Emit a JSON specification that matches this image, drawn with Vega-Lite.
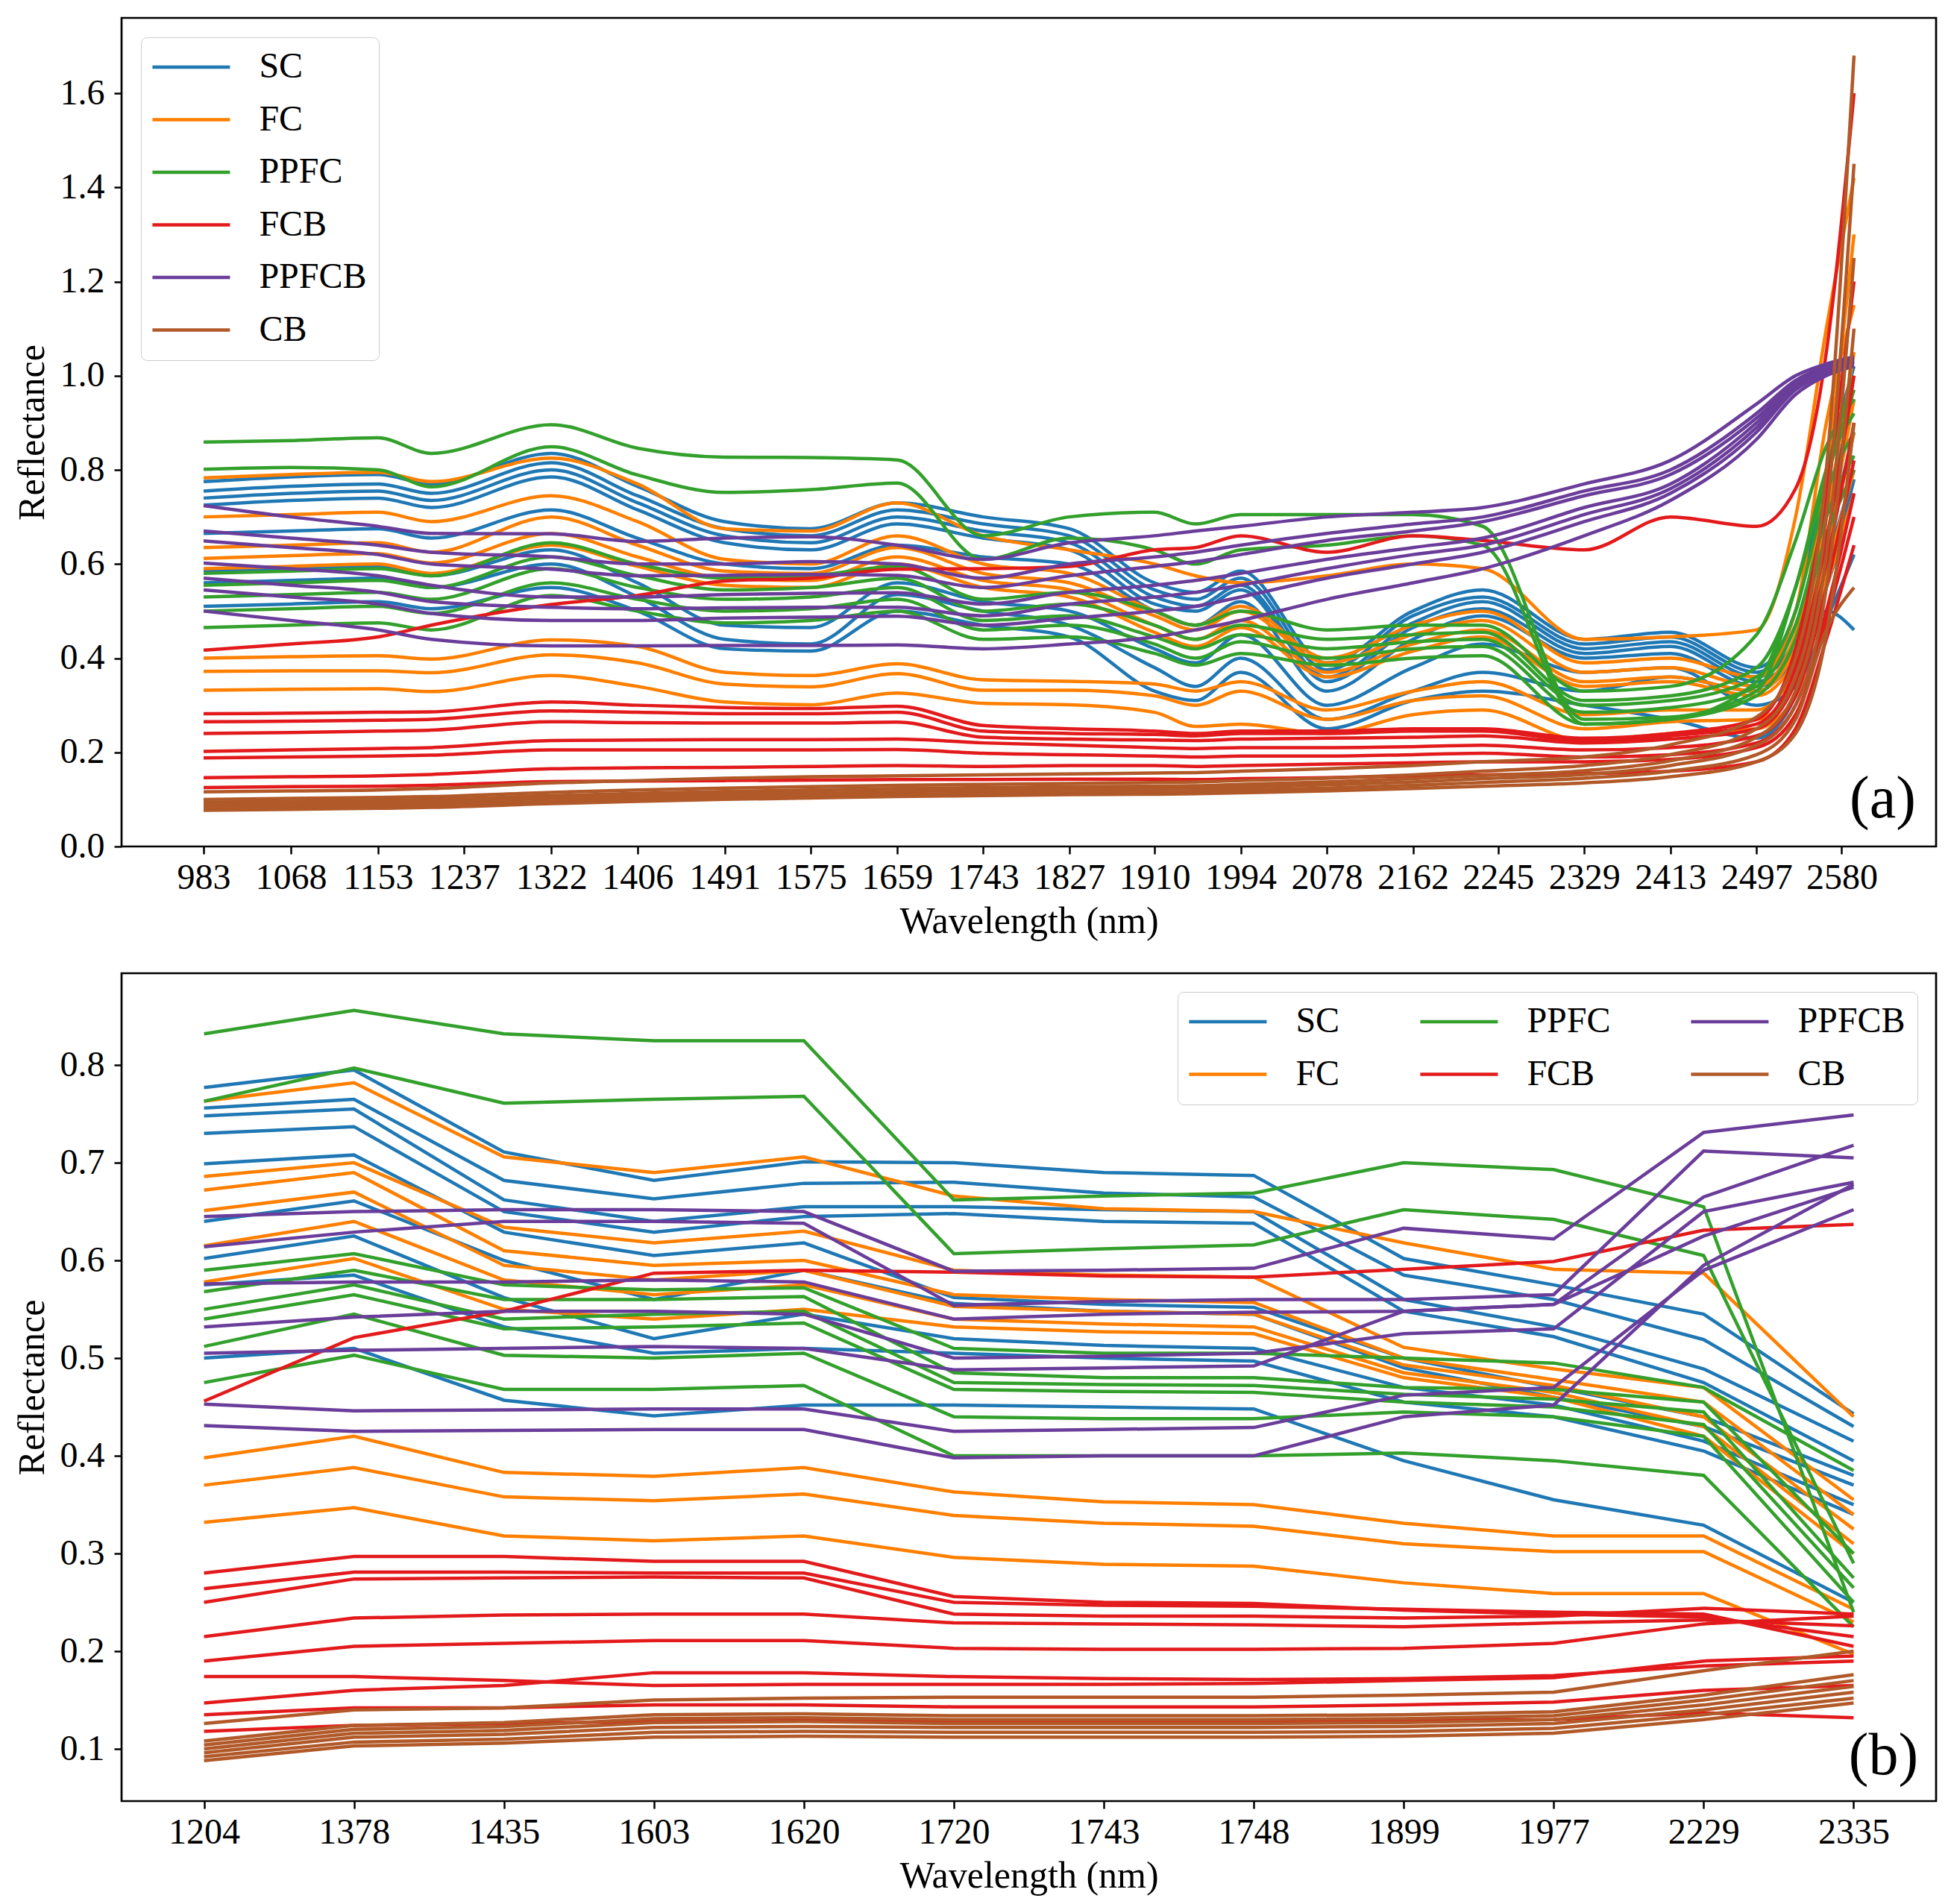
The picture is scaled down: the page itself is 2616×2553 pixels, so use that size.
{
  "$schema": "https://vega.github.io/schema/vega-lite/v6.json",
  "background": "white",
  "padding": {"left": 16, "top": 22, "right": 5, "bottom": 5},
  "datasets": {
    "top": [
      {"c":"SC","i":1,"w":983,"r":0.775},{"c":"SC","i":1,"w":1068,"r":0.785},{"c":"SC","i":1,"w":1153,"r":0.79},{"c":"SC","i":1,"w":1205,"r":0.77},{"c":"SC","i":1,"w":1322,"r":0.835},{"c":"SC","i":1,"w":1406,"r":0.765},{"c":"SC","i":1,"w":1491,"r":0.69},{"c":"SC","i":1,"w":1575,"r":0.675},{"c":"SC","i":1,"w":1659,"r":0.73},{"c":"SC","i":1,"w":1743,"r":0.7},{"c":"SC","i":1,"w":1827,"r":0.675},{"c":"SC","i":1,"w":1910,"r":0.56},{"c":"SC","i":1,"w":1950,"r":0.54},{"c":"SC","i":1,"w":1994,"r":0.585},{"c":"SC","i":1,"w":2078,"r":0.39},{"c":"SC","i":1,"w":2162,"r":0.5},{"c":"SC","i":1,"w":2230,"r":0.545},{"c":"SC","i":1,"w":2329,"r":0.44},{"c":"SC","i":1,"w":2413,"r":0.455},{"c":"SC","i":1,"w":2497,"r":0.38},{"c":"SC","i":1,"w":2535,"r":0.5},{"c":"SC","i":1,"w":2565,"r":0.8},{"c":"SC","i":1,"w":2592,"r":1.02},
      {"c":"SC","i":2,"w":983,"r":0.755},{"c":"SC","i":2,"w":1068,"r":0.765},{"c":"SC","i":2,"w":1153,"r":0.77},{"c":"SC","i":2,"w":1205,"r":0.75},{"c":"SC","i":2,"w":1322,"r":0.815},{"c":"SC","i":2,"w":1406,"r":0.745},{"c":"SC","i":2,"w":1491,"r":0.675},{"c":"SC","i":2,"w":1575,"r":0.66},{"c":"SC","i":2,"w":1659,"r":0.715},{"c":"SC","i":2,"w":1743,"r":0.685},{"c":"SC","i":2,"w":1827,"r":0.66},{"c":"SC","i":2,"w":1910,"r":0.545},{"c":"SC","i":2,"w":1950,"r":0.525},{"c":"SC","i":2,"w":1994,"r":0.57},{"c":"SC","i":2,"w":2078,"r":0.375},{"c":"SC","i":2,"w":2162,"r":0.49},{"c":"SC","i":2,"w":2230,"r":0.53},{"c":"SC","i":2,"w":2329,"r":0.43},{"c":"SC","i":2,"w":2413,"r":0.445},{"c":"SC","i":2,"w":2497,"r":0.37},{"c":"SC","i":2,"w":2535,"r":0.47},{"c":"SC","i":2,"w":2565,"r":0.72},{"c":"SC","i":2,"w":2592,"r":0.95},
      {"c":"SC","i":3,"w":983,"r":0.74},{"c":"SC","i":3,"w":1068,"r":0.75},{"c":"SC","i":3,"w":1153,"r":0.755},{"c":"SC","i":3,"w":1205,"r":0.735},{"c":"SC","i":3,"w":1322,"r":0.8},{"c":"SC","i":3,"w":1406,"r":0.73},{"c":"SC","i":3,"w":1491,"r":0.66},{"c":"SC","i":3,"w":1575,"r":0.645},{"c":"SC","i":3,"w":1659,"r":0.7},{"c":"SC","i":3,"w":1743,"r":0.67},{"c":"SC","i":3,"w":1827,"r":0.645},{"c":"SC","i":3,"w":1910,"r":0.53},{"c":"SC","i":3,"w":1950,"r":0.51},{"c":"SC","i":3,"w":1994,"r":0.555},{"c":"SC","i":3,"w":2078,"r":0.36},{"c":"SC","i":3,"w":2162,"r":0.475},{"c":"SC","i":3,"w":2230,"r":0.52},{"c":"SC","i":3,"w":2329,"r":0.42},{"c":"SC","i":3,"w":2413,"r":0.435},{"c":"SC","i":3,"w":2497,"r":0.36},{"c":"SC","i":3,"w":2535,"r":0.44},{"c":"SC","i":3,"w":2565,"r":0.65},{"c":"SC","i":3,"w":2592,"r":0.88},
      {"c":"SC","i":4,"w":983,"r":0.725},{"c":"SC","i":4,"w":1068,"r":0.735},{"c":"SC","i":4,"w":1153,"r":0.74},{"c":"SC","i":4,"w":1205,"r":0.72},{"c":"SC","i":4,"w":1322,"r":0.785},{"c":"SC","i":4,"w":1406,"r":0.715},{"c":"SC","i":4,"w":1491,"r":0.645},{"c":"SC","i":4,"w":1575,"r":0.63},{"c":"SC","i":4,"w":1659,"r":0.685},{"c":"SC","i":4,"w":1743,"r":0.655},{"c":"SC","i":4,"w":1827,"r":0.63},{"c":"SC","i":4,"w":1910,"r":0.515},{"c":"SC","i":4,"w":1950,"r":0.5},{"c":"SC","i":4,"w":1994,"r":0.545},{"c":"SC","i":4,"w":2078,"r":0.35},{"c":"SC","i":4,"w":2162,"r":0.465},{"c":"SC","i":4,"w":2230,"r":0.505},{"c":"SC","i":4,"w":2329,"r":0.41},{"c":"SC","i":4,"w":2413,"r":0.425},{"c":"SC","i":4,"w":2497,"r":0.35},{"c":"SC","i":4,"w":2535,"r":0.42},{"c":"SC","i":4,"w":2565,"r":0.6},{"c":"SC","i":4,"w":2592,"r":0.8},
      {"c":"SC","i":5,"w":983,"r":0.665},{"c":"SC","i":5,"w":1068,"r":0.67},{"c":"SC","i":5,"w":1153,"r":0.675},{"c":"SC","i":5,"w":1205,"r":0.655},{"c":"SC","i":5,"w":1322,"r":0.715},{"c":"SC","i":5,"w":1406,"r":0.655},{"c":"SC","i":5,"w":1491,"r":0.6},{"c":"SC","i":5,"w":1575,"r":0.59},{"c":"SC","i":5,"w":1659,"r":0.64},{"c":"SC","i":5,"w":1743,"r":0.615},{"c":"SC","i":5,"w":1827,"r":0.6},{"c":"SC","i":5,"w":1910,"r":0.5},{"c":"SC","i":5,"w":1950,"r":0.47},{"c":"SC","i":5,"w":1994,"r":0.52},{"c":"SC","i":5,"w":2078,"r":0.33},{"c":"SC","i":5,"w":2162,"r":0.44},{"c":"SC","i":5,"w":2230,"r":0.49},{"c":"SC","i":5,"w":2329,"r":0.4},{"c":"SC","i":5,"w":2413,"r":0.41},{"c":"SC","i":5,"w":2497,"r":0.34},{"c":"SC","i":5,"w":2535,"r":0.4},{"c":"SC","i":5,"w":2565,"r":0.55},{"c":"SC","i":5,"w":2592,"r":0.75},
      {"c":"SC","i":6,"w":983,"r":0.585},{"c":"SC","i":6,"w":1068,"r":0.59},{"c":"SC","i":6,"w":1153,"r":0.595},{"c":"SC","i":6,"w":1205,"r":0.575},{"c":"SC","i":6,"w":1322,"r":0.63},{"c":"SC","i":6,"w":1406,"r":0.56},{"c":"SC","i":6,"w":1491,"r":0.47},{"c":"SC","i":6,"w":1575,"r":0.465},{"c":"SC","i":6,"w":1659,"r":0.56},{"c":"SC","i":6,"w":1743,"r":0.52},{"c":"SC","i":6,"w":1827,"r":0.5},{"c":"SC","i":6,"w":1910,"r":0.42},{"c":"SC","i":6,"w":1950,"r":0.39},{"c":"SC","i":6,"w":1994,"r":0.45},{"c":"SC","i":6,"w":2078,"r":0.3},{"c":"SC","i":6,"w":2162,"r":0.38},{"c":"SC","i":6,"w":2230,"r":0.43},{"c":"SC","i":6,"w":2329,"r":0.37},{"c":"SC","i":6,"w":2413,"r":0.38},{"c":"SC","i":6,"w":2497,"r":0.3},{"c":"SC","i":6,"w":2535,"r":0.34},{"c":"SC","i":6,"w":2565,"r":0.48},{"c":"SC","i":6,"w":2592,"r":0.62},
      {"c":"SC","i":7,"w":983,"r":0.56},{"c":"SC","i":7,"w":1068,"r":0.565},{"c":"SC","i":7,"w":1153,"r":0.57},{"c":"SC","i":7,"w":1205,"r":0.55},{"c":"SC","i":7,"w":1322,"r":0.6},{"c":"SC","i":7,"w":1406,"r":0.53},{"c":"SC","i":7,"w":1491,"r":0.44},{"c":"SC","i":7,"w":1575,"r":0.43},{"c":"SC","i":7,"w":1659,"r":0.535},{"c":"SC","i":7,"w":1743,"r":0.5},{"c":"SC","i":7,"w":1827,"r":0.47},{"c":"SC","i":7,"w":1910,"r":0.38},{"c":"SC","i":7,"w":1950,"r":0.34},{"c":"SC","i":7,"w":1994,"r":0.4},{"c":"SC","i":7,"w":2078,"r":0.27},{"c":"SC","i":7,"w":2162,"r":0.33},{"c":"SC","i":7,"w":2230,"r":0.37},{"c":"SC","i":7,"w":2329,"r":0.33},{"c":"SC","i":7,"w":2413,"r":0.36},{"c":"SC","i":7,"w":2497,"r":0.33},{"c":"SC","i":7,"w":2535,"r":0.4},{"c":"SC","i":7,"w":2565,"r":0.5},{"c":"SC","i":7,"w":2592,"r":0.46},
      {"c":"SC","i":8,"w":983,"r":0.51},{"c":"SC","i":8,"w":1068,"r":0.515},{"c":"SC","i":8,"w":1153,"r":0.52},{"c":"SC","i":8,"w":1205,"r":0.505},{"c":"SC","i":8,"w":1322,"r":0.55},{"c":"SC","i":8,"w":1406,"r":0.5},{"c":"SC","i":8,"w":1491,"r":0.42},{"c":"SC","i":8,"w":1575,"r":0.415},{"c":"SC","i":8,"w":1659,"r":0.5},{"c":"SC","i":8,"w":1743,"r":0.47},{"c":"SC","i":8,"w":1827,"r":0.445},{"c":"SC","i":8,"w":1910,"r":0.33},{"c":"SC","i":8,"w":1950,"r":0.31},{"c":"SC","i":8,"w":1994,"r":0.37},{"c":"SC","i":8,"w":2078,"r":0.25},{"c":"SC","i":8,"w":2162,"r":0.31},{"c":"SC","i":8,"w":2230,"r":0.33},{"c":"SC","i":8,"w":2329,"r":0.3},{"c":"SC","i":8,"w":2413,"r":0.27},{"c":"SC","i":8,"w":2497,"r":0.23},{"c":"SC","i":8,"w":2535,"r":0.32},{"c":"SC","i":8,"w":2565,"r":0.55},{"c":"SC","i":8,"w":2592,"r":0.78},
      {"c":"FC","i":1,"w":983,"r":0.783},{"c":"FC","i":1,"w":1068,"r":0.79},{"c":"FC","i":1,"w":1153,"r":0.795},{"c":"FC","i":1,"w":1205,"r":0.775},{"c":"FC","i":1,"w":1322,"r":0.825},{"c":"FC","i":1,"w":1406,"r":0.77},{"c":"FC","i":1,"w":1491,"r":0.675},{"c":"FC","i":1,"w":1575,"r":0.67},{"c":"FC","i":1,"w":1659,"r":0.73},{"c":"FC","i":1,"w":1743,"r":0.66},{"c":"FC","i":1,"w":1827,"r":0.63},{"c":"FC","i":1,"w":1910,"r":0.6},{"c":"FC","i":1,"w":1950,"r":0.575},{"c":"FC","i":1,"w":1994,"r":0.56},{"c":"FC","i":1,"w":2078,"r":0.575},{"c":"FC","i":1,"w":2162,"r":0.6},{"c":"FC","i":1,"w":2230,"r":0.59},{"c":"FC","i":1,"w":2329,"r":0.44},{"c":"FC","i":1,"w":2413,"r":0.445},{"c":"FC","i":1,"w":2497,"r":0.46},{"c":"FC","i":1,"w":2535,"r":0.7},{"c":"FC","i":1,"w":2565,"r":1.1},{"c":"FC","i":1,"w":2592,"r":1.42},
      {"c":"FC","i":2,"w":983,"r":0.7},{"c":"FC","i":2,"w":1068,"r":0.705},{"c":"FC","i":2,"w":1153,"r":0.71},{"c":"FC","i":2,"w":1205,"r":0.69},{"c":"FC","i":2,"w":1322,"r":0.745},{"c":"FC","i":2,"w":1406,"r":0.69},{"c":"FC","i":2,"w":1491,"r":0.61},{"c":"FC","i":2,"w":1575,"r":0.6},{"c":"FC","i":2,"w":1659,"r":0.66},{"c":"FC","i":2,"w":1743,"r":0.6},{"c":"FC","i":2,"w":1827,"r":0.58},{"c":"FC","i":2,"w":1910,"r":0.5},{"c":"FC","i":2,"w":1950,"r":0.47},{"c":"FC","i":2,"w":1994,"r":0.51},{"c":"FC","i":2,"w":2078,"r":0.4},{"c":"FC","i":2,"w":2162,"r":0.47},{"c":"FC","i":2,"w":2230,"r":0.5},{"c":"FC","i":2,"w":2329,"r":0.39},{"c":"FC","i":2,"w":2413,"r":0.4},{"c":"FC","i":2,"w":2497,"r":0.36},{"c":"FC","i":2,"w":2535,"r":0.5},{"c":"FC","i":2,"w":2565,"r":0.9},{"c":"FC","i":2,"w":2592,"r":1.15},
      {"c":"FC","i":3,"w":983,"r":0.635},{"c":"FC","i":3,"w":1068,"r":0.64},{"c":"FC","i":3,"w":1153,"r":0.645},{"c":"FC","i":3,"w":1205,"r":0.625},{"c":"FC","i":3,"w":1322,"r":0.7},{"c":"FC","i":3,"w":1406,"r":0.64},{"c":"FC","i":3,"w":1491,"r":0.585},{"c":"FC","i":3,"w":1575,"r":0.58},{"c":"FC","i":3,"w":1659,"r":0.635},{"c":"FC","i":3,"w":1743,"r":0.58},{"c":"FC","i":3,"w":1827,"r":0.56},{"c":"FC","i":3,"w":1910,"r":0.49},{"c":"FC","i":3,"w":1950,"r":0.46},{"c":"FC","i":3,"w":1994,"r":0.5},{"c":"FC","i":3,"w":2078,"r":0.39},{"c":"FC","i":3,"w":2162,"r":0.45},{"c":"FC","i":3,"w":2230,"r":0.48},{"c":"FC","i":3,"w":2329,"r":0.37},{"c":"FC","i":3,"w":2413,"r":0.38},{"c":"FC","i":3,"w":2497,"r":0.34},{"c":"FC","i":3,"w":2535,"r":0.45},{"c":"FC","i":3,"w":2565,"r":0.8},{"c":"FC","i":3,"w":2592,"r":1.3},
      {"c":"FC","i":4,"w":983,"r":0.612},{"c":"FC","i":4,"w":1068,"r":0.618},{"c":"FC","i":4,"w":1153,"r":0.622},{"c":"FC","i":4,"w":1205,"r":0.602},{"c":"FC","i":4,"w":1322,"r":0.665},{"c":"FC","i":4,"w":1406,"r":0.615},{"c":"FC","i":4,"w":1491,"r":0.57},{"c":"FC","i":4,"w":1575,"r":0.565},{"c":"FC","i":4,"w":1659,"r":0.615},{"c":"FC","i":4,"w":1743,"r":0.565},{"c":"FC","i":4,"w":1827,"r":0.545},{"c":"FC","i":4,"w":1910,"r":0.47},{"c":"FC","i":4,"w":1950,"r":0.44},{"c":"FC","i":4,"w":1994,"r":0.48},{"c":"FC","i":4,"w":2078,"r":0.37},{"c":"FC","i":4,"w":2162,"r":0.43},{"c":"FC","i":4,"w":2230,"r":0.46},{"c":"FC","i":4,"w":2329,"r":0.35},{"c":"FC","i":4,"w":2413,"r":0.36},{"c":"FC","i":4,"w":2497,"r":0.33},{"c":"FC","i":4,"w":2535,"r":0.42},{"c":"FC","i":4,"w":2565,"r":0.7},{"c":"FC","i":4,"w":2592,"r":1.05},
      {"c":"FC","i":5,"w":983,"r":0.59},{"c":"FC","i":5,"w":1068,"r":0.595},{"c":"FC","i":5,"w":1153,"r":0.6},{"c":"FC","i":5,"w":1205,"r":0.58},{"c":"FC","i":5,"w":1322,"r":0.64},{"c":"FC","i":5,"w":1406,"r":0.595},{"c":"FC","i":5,"w":1491,"r":0.555},{"c":"FC","i":5,"w":1575,"r":0.55},{"c":"FC","i":5,"w":1659,"r":0.6},{"c":"FC","i":5,"w":1743,"r":0.55},{"c":"FC","i":5,"w":1827,"r":0.53},{"c":"FC","i":5,"w":1910,"r":0.455},{"c":"FC","i":5,"w":1950,"r":0.425},{"c":"FC","i":5,"w":1994,"r":0.465},{"c":"FC","i":5,"w":2078,"r":0.36},{"c":"FC","i":5,"w":2162,"r":0.415},{"c":"FC","i":5,"w":2230,"r":0.445},{"c":"FC","i":5,"w":2329,"r":0.34},{"c":"FC","i":5,"w":2413,"r":0.35},{"c":"FC","i":5,"w":2497,"r":0.32},{"c":"FC","i":5,"w":2535,"r":0.4},{"c":"FC","i":5,"w":2565,"r":0.65},{"c":"FC","i":5,"w":2592,"r":0.95},
      {"c":"FC","i":6,"w":983,"r":0.4},{"c":"FC","i":6,"w":1068,"r":0.403},{"c":"FC","i":6,"w":1153,"r":0.405},{"c":"FC","i":6,"w":1205,"r":0.398},{"c":"FC","i":6,"w":1322,"r":0.439},{"c":"FC","i":6,"w":1406,"r":0.425},{"c":"FC","i":6,"w":1491,"r":0.37},{"c":"FC","i":6,"w":1575,"r":0.363},{"c":"FC","i":6,"w":1659,"r":0.388},{"c":"FC","i":6,"w":1743,"r":0.354},{"c":"FC","i":6,"w":1827,"r":0.351},{"c":"FC","i":6,"w":1910,"r":0.345},{"c":"FC","i":6,"w":1950,"r":0.33},{"c":"FC","i":6,"w":1994,"r":0.35},{"c":"FC","i":6,"w":2078,"r":0.29},{"c":"FC","i":6,"w":2162,"r":0.33},{"c":"FC","i":6,"w":2230,"r":0.35},{"c":"FC","i":6,"w":2329,"r":0.28},{"c":"FC","i":6,"w":2413,"r":0.29},{"c":"FC","i":6,"w":2497,"r":0.29},{"c":"FC","i":6,"w":2535,"r":0.38},{"c":"FC","i":6,"w":2565,"r":0.62},{"c":"FC","i":6,"w":2592,"r":0.88},
      {"c":"FC","i":7,"w":983,"r":0.372},{"c":"FC","i":7,"w":1068,"r":0.373},{"c":"FC","i":7,"w":1153,"r":0.373},{"c":"FC","i":7,"w":1205,"r":0.369},{"c":"FC","i":7,"w":1322,"r":0.407},{"c":"FC","i":7,"w":1406,"r":0.39},{"c":"FC","i":7,"w":1491,"r":0.345},{"c":"FC","i":7,"w":1575,"r":0.339},{"c":"FC","i":7,"w":1659,"r":0.367},{"c":"FC","i":7,"w":1743,"r":0.332},{"c":"FC","i":7,"w":1827,"r":0.332},{"c":"FC","i":7,"w":1910,"r":0.32},{"c":"FC","i":7,"w":1950,"r":0.3},{"c":"FC","i":7,"w":1994,"r":0.33},{"c":"FC","i":7,"w":2078,"r":0.27},{"c":"FC","i":7,"w":2162,"r":0.31},{"c":"FC","i":7,"w":2230,"r":0.32},{"c":"FC","i":7,"w":2329,"r":0.25},{"c":"FC","i":7,"w":2413,"r":0.265},{"c":"FC","i":7,"w":2497,"r":0.27},{"c":"FC","i":7,"w":2535,"r":0.35},{"c":"FC","i":7,"w":2565,"r":0.58},{"c":"FC","i":7,"w":2592,"r":0.8},
      {"c":"FC","i":8,"w":983,"r":0.332},{"c":"FC","i":8,"w":1068,"r":0.334},{"c":"FC","i":8,"w":1153,"r":0.335},{"c":"FC","i":8,"w":1205,"r":0.329},{"c":"FC","i":8,"w":1322,"r":0.363},{"c":"FC","i":8,"w":1406,"r":0.34},{"c":"FC","i":8,"w":1491,"r":0.307},{"c":"FC","i":8,"w":1575,"r":0.301},{"c":"FC","i":8,"w":1659,"r":0.326},{"c":"FC","i":8,"w":1743,"r":0.304},{"c":"FC","i":8,"w":1827,"r":0.301},{"c":"FC","i":8,"w":1910,"r":0.285},{"c":"FC","i":8,"w":1950,"r":0.255},{"c":"FC","i":8,"w":1994,"r":0.26},{"c":"FC","i":8,"w":2078,"r":0.24},{"c":"FC","i":8,"w":2162,"r":0.28},{"c":"FC","i":8,"w":2230,"r":0.29},{"c":"FC","i":8,"w":2329,"r":0.225},{"c":"FC","i":8,"w":2413,"r":0.24},{"c":"FC","i":8,"w":2497,"r":0.25},{"c":"FC","i":8,"w":2535,"r":0.32},{"c":"FC","i":8,"w":2565,"r":0.55},{"c":"FC","i":8,"w":2592,"r":0.75},
      {"c":"PPFC","i":1,"w":983,"r":0.859},{"c":"PPFC","i":1,"w":1068,"r":0.862},{"c":"PPFC","i":1,"w":1153,"r":0.868},{"c":"PPFC","i":1,"w":1205,"r":0.835},{"c":"PPFC","i":1,"w":1322,"r":0.896},{"c":"PPFC","i":1,"w":1406,"r":0.846},{"c":"PPFC","i":1,"w":1491,"r":0.827},{"c":"PPFC","i":1,"w":1575,"r":0.826},{"c":"PPFC","i":1,"w":1659,"r":0.821},{"c":"PPFC","i":1,"w":1743,"r":0.66},{"c":"PPFC","i":1,"w":1827,"r":0.7},{"c":"PPFC","i":1,"w":1910,"r":0.71},{"c":"PPFC","i":1,"w":1950,"r":0.685},{"c":"PPFC","i":1,"w":1994,"r":0.705},{"c":"PPFC","i":1,"w":2078,"r":0.705},{"c":"PPFC","i":1,"w":2162,"r":0.705},{"c":"PPFC","i":1,"w":2230,"r":0.68},{"c":"PPFC","i":1,"w":2329,"r":0.27},{"c":"PPFC","i":1,"w":2413,"r":0.275},{"c":"PPFC","i":1,"w":2497,"r":0.33},{"c":"PPFC","i":1,"w":2535,"r":0.55},{"c":"PPFC","i":1,"w":2565,"r":0.8},{"c":"PPFC","i":1,"w":2592,"r":1.0},
      {"c":"PPFC","i":2,"w":983,"r":0.801},{"c":"PPFC","i":2,"w":1068,"r":0.805},{"c":"PPFC","i":2,"w":1153,"r":0.8},{"c":"PPFC","i":2,"w":1205,"r":0.764},{"c":"PPFC","i":2,"w":1322,"r":0.849},{"c":"PPFC","i":2,"w":1406,"r":0.789},{"c":"PPFC","i":2,"w":1491,"r":0.752},{"c":"PPFC","i":2,"w":1575,"r":0.758},{"c":"PPFC","i":2,"w":1659,"r":0.772},{"c":"PPFC","i":2,"w":1743,"r":0.61},{"c":"PPFC","i":2,"w":1827,"r":0.655},{"c":"PPFC","i":2,"w":1910,"r":0.63},{"c":"PPFC","i":2,"w":1950,"r":0.6},{"c":"PPFC","i":2,"w":1994,"r":0.63},{"c":"PPFC","i":2,"w":2078,"r":0.64},{"c":"PPFC","i":2,"w":2162,"r":0.66},{"c":"PPFC","i":2,"w":2230,"r":0.64},{"c":"PPFC","i":2,"w":2329,"r":0.26},{"c":"PPFC","i":2,"w":2413,"r":0.27},{"c":"PPFC","i":2,"w":2497,"r":0.35},{"c":"PPFC","i":2,"w":2535,"r":0.55},{"c":"PPFC","i":2,"w":2565,"r":0.78},{"c":"PPFC","i":2,"w":2592,"r":0.97},
      {"c":"PPFC","i":3,"w":983,"r":0.58},{"c":"PPFC","i":3,"w":1068,"r":0.585},{"c":"PPFC","i":3,"w":1153,"r":0.59},{"c":"PPFC","i":3,"w":1205,"r":0.575},{"c":"PPFC","i":3,"w":1322,"r":0.645},{"c":"PPFC","i":3,"w":1406,"r":0.6},{"c":"PPFC","i":3,"w":1491,"r":0.57},{"c":"PPFC","i":3,"w":1575,"r":0.575},{"c":"PPFC","i":3,"w":1659,"r":0.595},{"c":"PPFC","i":3,"w":1743,"r":0.525},{"c":"PPFC","i":3,"w":1827,"r":0.54},{"c":"PPFC","i":3,"w":1910,"r":0.5},{"c":"PPFC","i":3,"w":1950,"r":0.47},{"c":"PPFC","i":3,"w":1994,"r":0.5},{"c":"PPFC","i":3,"w":2078,"r":0.46},{"c":"PPFC","i":3,"w":2162,"r":0.47},{"c":"PPFC","i":3,"w":2230,"r":0.47},{"c":"PPFC","i":3,"w":2329,"r":0.33},{"c":"PPFC","i":3,"w":2413,"r":0.34},{"c":"PPFC","i":3,"w":2497,"r":0.45},{"c":"PPFC","i":3,"w":2535,"r":0.65},{"c":"PPFC","i":3,"w":2565,"r":0.85},{"c":"PPFC","i":3,"w":2592,"r":0.95},
      {"c":"PPFC","i":4,"w":983,"r":0.555},{"c":"PPFC","i":4,"w":1068,"r":0.56},{"c":"PPFC","i":4,"w":1153,"r":0.565},{"c":"PPFC","i":4,"w":1205,"r":0.55},{"c":"PPFC","i":4,"w":1322,"r":0.615},{"c":"PPFC","i":4,"w":1406,"r":0.575},{"c":"PPFC","i":4,"w":1491,"r":0.545},{"c":"PPFC","i":4,"w":1575,"r":0.55},{"c":"PPFC","i":4,"w":1659,"r":0.57},{"c":"PPFC","i":4,"w":1743,"r":0.5},{"c":"PPFC","i":4,"w":1827,"r":0.515},{"c":"PPFC","i":4,"w":1910,"r":0.47},{"c":"PPFC","i":4,"w":1950,"r":0.44},{"c":"PPFC","i":4,"w":1994,"r":0.47},{"c":"PPFC","i":4,"w":2078,"r":0.44},{"c":"PPFC","i":4,"w":2162,"r":0.45},{"c":"PPFC","i":4,"w":2230,"r":0.455},{"c":"PPFC","i":4,"w":2329,"r":0.31},{"c":"PPFC","i":4,"w":2413,"r":0.32},{"c":"PPFC","i":4,"w":2497,"r":0.38},{"c":"PPFC","i":4,"w":2535,"r":0.55},{"c":"PPFC","i":4,"w":2565,"r":0.8},{"c":"PPFC","i":4,"w":2592,"r":0.92},
      {"c":"PPFC","i":5,"w":983,"r":0.53},{"c":"PPFC","i":5,"w":1068,"r":0.535},{"c":"PPFC","i":5,"w":1153,"r":0.54},{"c":"PPFC","i":5,"w":1205,"r":0.525},{"c":"PPFC","i":5,"w":1322,"r":0.59},{"c":"PPFC","i":5,"w":1406,"r":0.55},{"c":"PPFC","i":5,"w":1491,"r":0.525},{"c":"PPFC","i":5,"w":1575,"r":0.53},{"c":"PPFC","i":5,"w":1659,"r":0.55},{"c":"PPFC","i":5,"w":1743,"r":0.48},{"c":"PPFC","i":5,"w":1827,"r":0.49},{"c":"PPFC","i":5,"w":1910,"r":0.445},{"c":"PPFC","i":5,"w":1950,"r":0.42},{"c":"PPFC","i":5,"w":1994,"r":0.45},{"c":"PPFC","i":5,"w":2078,"r":0.42},{"c":"PPFC","i":5,"w":2162,"r":0.435},{"c":"PPFC","i":5,"w":2230,"r":0.44},{"c":"PPFC","i":5,"w":2329,"r":0.3},{"c":"PPFC","i":5,"w":2413,"r":0.31},{"c":"PPFC","i":5,"w":2497,"r":0.36},{"c":"PPFC","i":5,"w":2535,"r":0.5},{"c":"PPFC","i":5,"w":2565,"r":0.75},{"c":"PPFC","i":5,"w":2592,"r":0.88},
      {"c":"PPFC","i":6,"w":983,"r":0.5},{"c":"PPFC","i":6,"w":1068,"r":0.505},{"c":"PPFC","i":6,"w":1153,"r":0.51},{"c":"PPFC","i":6,"w":1205,"r":0.495},{"c":"PPFC","i":6,"w":1322,"r":0.56},{"c":"PPFC","i":6,"w":1406,"r":0.525},{"c":"PPFC","i":6,"w":1491,"r":0.5},{"c":"PPFC","i":6,"w":1575,"r":0.505},{"c":"PPFC","i":6,"w":1659,"r":0.525},{"c":"PPFC","i":6,"w":1743,"r":0.46},{"c":"PPFC","i":6,"w":1827,"r":0.47},{"c":"PPFC","i":6,"w":1910,"r":0.43},{"c":"PPFC","i":6,"w":1950,"r":0.4},{"c":"PPFC","i":6,"w":1994,"r":0.435},{"c":"PPFC","i":6,"w":2078,"r":0.4},{"c":"PPFC","i":6,"w":2162,"r":0.42},{"c":"PPFC","i":6,"w":2230,"r":0.425},{"c":"PPFC","i":6,"w":2329,"r":0.285},{"c":"PPFC","i":6,"w":2413,"r":0.295},{"c":"PPFC","i":6,"w":2497,"r":0.34},{"c":"PPFC","i":6,"w":2535,"r":0.47},{"c":"PPFC","i":6,"w":2565,"r":0.7},{"c":"PPFC","i":6,"w":2592,"r":0.83},
      {"c":"PPFC","i":7,"w":983,"r":0.465},{"c":"PPFC","i":7,"w":1068,"r":0.47},{"c":"PPFC","i":7,"w":1153,"r":0.475},{"c":"PPFC","i":7,"w":1205,"r":0.46},{"c":"PPFC","i":7,"w":1322,"r":0.533},{"c":"PPFC","i":7,"w":1406,"r":0.5},{"c":"PPFC","i":7,"w":1491,"r":0.475},{"c":"PPFC","i":7,"w":1575,"r":0.48},{"c":"PPFC","i":7,"w":1659,"r":0.5},{"c":"PPFC","i":7,"w":1743,"r":0.44},{"c":"PPFC","i":7,"w":1827,"r":0.445},{"c":"PPFC","i":7,"w":1910,"r":0.41},{"c":"PPFC","i":7,"w":1950,"r":0.385},{"c":"PPFC","i":7,"w":1994,"r":0.41},{"c":"PPFC","i":7,"w":2078,"r":0.385},{"c":"PPFC","i":7,"w":2162,"r":0.4},{"c":"PPFC","i":7,"w":2230,"r":0.405},{"c":"PPFC","i":7,"w":2329,"r":0.26},{"c":"PPFC","i":7,"w":2413,"r":0.27},{"c":"PPFC","i":7,"w":2497,"r":0.32},{"c":"PPFC","i":7,"w":2535,"r":0.44},{"c":"PPFC","i":7,"w":2565,"r":0.66},{"c":"PPFC","i":7,"w":2592,"r":0.8},
      {"c":"FCB","i":1,"w":983,"r":0.417},{"c":"FCB","i":1,"w":1068,"r":0.43},{"c":"FCB","i":1,"w":1153,"r":0.445},{"c":"FCB","i":1,"w":1205,"r":0.47},{"c":"FCB","i":1,"w":1322,"r":0.514},{"c":"FCB","i":1,"w":1406,"r":0.533},{"c":"FCB","i":1,"w":1491,"r":0.564},{"c":"FCB","i":1,"w":1575,"r":0.57},{"c":"FCB","i":1,"w":1659,"r":0.589},{"c":"FCB","i":1,"w":1743,"r":0.59},{"c":"FCB","i":1,"w":1827,"r":0.595},{"c":"FCB","i":1,"w":1910,"r":0.63},{"c":"FCB","i":1,"w":1950,"r":0.635},{"c":"FCB","i":1,"w":1994,"r":0.66},{"c":"FCB","i":1,"w":2078,"r":0.625},{"c":"FCB","i":1,"w":2162,"r":0.66},{"c":"FCB","i":1,"w":2230,"r":0.65},{"c":"FCB","i":1,"w":2329,"r":0.63},{"c":"FCB","i":1,"w":2413,"r":0.7},{"c":"FCB","i":1,"w":2497,"r":0.68},{"c":"FCB","i":1,"w":2535,"r":0.76},{"c":"FCB","i":1,"w":2565,"r":1.05},{"c":"FCB","i":1,"w":2592,"r":1.6},
      {"c":"FCB","i":2,"w":983,"r":0.282},{"c":"FCB","i":2,"w":1068,"r":0.283},{"c":"FCB","i":2,"w":1153,"r":0.285},{"c":"FCB","i":2,"w":1205,"r":0.286},{"c":"FCB","i":2,"w":1322,"r":0.307},{"c":"FCB","i":2,"w":1406,"r":0.3},{"c":"FCB","i":2,"w":1491,"r":0.295},{"c":"FCB","i":2,"w":1575,"r":0.293},{"c":"FCB","i":2,"w":1659,"r":0.298},{"c":"FCB","i":2,"w":1743,"r":0.257},{"c":"FCB","i":2,"w":1827,"r":0.25},{"c":"FCB","i":2,"w":1910,"r":0.245},{"c":"FCB","i":2,"w":1950,"r":0.24},{"c":"FCB","i":2,"w":1994,"r":0.245},{"c":"FCB","i":2,"w":2078,"r":0.245},{"c":"FCB","i":2,"w":2162,"r":0.25},{"c":"FCB","i":2,"w":2230,"r":0.25},{"c":"FCB","i":2,"w":2329,"r":0.23},{"c":"FCB","i":2,"w":2413,"r":0.24},{"c":"FCB","i":2,"w":2497,"r":0.27},{"c":"FCB","i":2,"w":2535,"r":0.42},{"c":"FCB","i":2,"w":2565,"r":0.75},{"c":"FCB","i":2,"w":2592,"r":1.2},
      {"c":"FCB","i":3,"w":983,"r":0.265},{"c":"FCB","i":3,"w":1068,"r":0.266},{"c":"FCB","i":3,"w":1153,"r":0.268},{"c":"FCB","i":3,"w":1205,"r":0.27},{"c":"FCB","i":3,"w":1322,"r":0.288},{"c":"FCB","i":3,"w":1406,"r":0.285},{"c":"FCB","i":3,"w":1491,"r":0.282},{"c":"FCB","i":3,"w":1575,"r":0.282},{"c":"FCB","i":3,"w":1659,"r":0.285},{"c":"FCB","i":3,"w":1743,"r":0.245},{"c":"FCB","i":3,"w":1827,"r":0.24},{"c":"FCB","i":3,"w":1910,"r":0.238},{"c":"FCB","i":3,"w":1950,"r":0.235},{"c":"FCB","i":3,"w":1994,"r":0.24},{"c":"FCB","i":3,"w":2078,"r":0.24},{"c":"FCB","i":3,"w":2162,"r":0.245},{"c":"FCB","i":3,"w":2230,"r":0.245},{"c":"FCB","i":3,"w":2329,"r":0.225},{"c":"FCB","i":3,"w":2413,"r":0.235},{"c":"FCB","i":3,"w":2497,"r":0.26},{"c":"FCB","i":3,"w":2535,"r":0.38},{"c":"FCB","i":3,"w":2565,"r":0.65},{"c":"FCB","i":3,"w":2592,"r":1.0},
      {"c":"FCB","i":4,"w":983,"r":0.24},{"c":"FCB","i":4,"w":1068,"r":0.242},{"c":"FCB","i":4,"w":1153,"r":0.245},{"c":"FCB","i":4,"w":1205,"r":0.247},{"c":"FCB","i":4,"w":1322,"r":0.265},{"c":"FCB","i":4,"w":1406,"r":0.263},{"c":"FCB","i":4,"w":1491,"r":0.262},{"c":"FCB","i":4,"w":1575,"r":0.262},{"c":"FCB","i":4,"w":1659,"r":0.264},{"c":"FCB","i":4,"w":1743,"r":0.232},{"c":"FCB","i":4,"w":1827,"r":0.228},{"c":"FCB","i":4,"w":1910,"r":0.226},{"c":"FCB","i":4,"w":1950,"r":0.225},{"c":"FCB","i":4,"w":1994,"r":0.228},{"c":"FCB","i":4,"w":2078,"r":0.23},{"c":"FCB","i":4,"w":2162,"r":0.232},{"c":"FCB","i":4,"w":2230,"r":0.235},{"c":"FCB","i":4,"w":2329,"r":0.22},{"c":"FCB","i":4,"w":2413,"r":0.228},{"c":"FCB","i":4,"w":2497,"r":0.25},{"c":"FCB","i":4,"w":2535,"r":0.35},{"c":"FCB","i":4,"w":2565,"r":0.6},{"c":"FCB","i":4,"w":2592,"r":0.9},
      {"c":"FCB","i":5,"w":983,"r":0.202},{"c":"FCB","i":5,"w":1068,"r":0.205},{"c":"FCB","i":5,"w":1153,"r":0.208},{"c":"FCB","i":5,"w":1205,"r":0.21},{"c":"FCB","i":5,"w":1322,"r":0.225},{"c":"FCB","i":5,"w":1406,"r":0.226},{"c":"FCB","i":5,"w":1491,"r":0.227},{"c":"FCB","i":5,"w":1575,"r":0.227},{"c":"FCB","i":5,"w":1659,"r":0.228},{"c":"FCB","i":5,"w":1743,"r":0.22},{"c":"FCB","i":5,"w":1827,"r":0.215},{"c":"FCB","i":5,"w":1910,"r":0.21},{"c":"FCB","i":5,"w":1950,"r":0.208},{"c":"FCB","i":5,"w":1994,"r":0.21},{"c":"FCB","i":5,"w":2078,"r":0.21},{"c":"FCB","i":5,"w":2162,"r":0.212},{"c":"FCB","i":5,"w":2230,"r":0.215},{"c":"FCB","i":5,"w":2329,"r":0.205},{"c":"FCB","i":5,"w":2413,"r":0.21},{"c":"FCB","i":5,"w":2497,"r":0.235},{"c":"FCB","i":5,"w":2535,"r":0.32},{"c":"FCB","i":5,"w":2565,"r":0.55},{"c":"FCB","i":5,"w":2592,"r":0.82},
      {"c":"FCB","i":6,"w":983,"r":0.188},{"c":"FCB","i":6,"w":1068,"r":0.19},{"c":"FCB","i":6,"w":1153,"r":0.192},{"c":"FCB","i":6,"w":1205,"r":0.194},{"c":"FCB","i":6,"w":1322,"r":0.205},{"c":"FCB","i":6,"w":1406,"r":0.205},{"c":"FCB","i":6,"w":1491,"r":0.205},{"c":"FCB","i":6,"w":1575,"r":0.205},{"c":"FCB","i":6,"w":1659,"r":0.206},{"c":"FCB","i":6,"w":1743,"r":0.198},{"c":"FCB","i":6,"w":1827,"r":0.195},{"c":"FCB","i":6,"w":1910,"r":0.192},{"c":"FCB","i":6,"w":1950,"r":0.19},{"c":"FCB","i":6,"w":1994,"r":0.192},{"c":"FCB","i":6,"w":2078,"r":0.192},{"c":"FCB","i":6,"w":2162,"r":0.195},{"c":"FCB","i":6,"w":2230,"r":0.198},{"c":"FCB","i":6,"w":2329,"r":0.19},{"c":"FCB","i":6,"w":2413,"r":0.195},{"c":"FCB","i":6,"w":2497,"r":0.22},{"c":"FCB","i":6,"w":2535,"r":0.3},{"c":"FCB","i":6,"w":2565,"r":0.5},{"c":"FCB","i":6,"w":2592,"r":0.75},
      {"c":"FCB","i":7,"w":983,"r":0.146},{"c":"FCB","i":7,"w":1068,"r":0.148},{"c":"FCB","i":7,"w":1153,"r":0.15},{"c":"FCB","i":7,"w":1205,"r":0.153},{"c":"FCB","i":7,"w":1322,"r":0.165},{"c":"FCB","i":7,"w":1406,"r":0.167},{"c":"FCB","i":7,"w":1491,"r":0.168},{"c":"FCB","i":7,"w":1575,"r":0.17},{"c":"FCB","i":7,"w":1659,"r":0.172},{"c":"FCB","i":7,"w":1743,"r":0.17},{"c":"FCB","i":7,"w":1827,"r":0.172},{"c":"FCB","i":7,"w":1910,"r":0.172},{"c":"FCB","i":7,"w":1950,"r":0.17},{"c":"FCB","i":7,"w":1994,"r":0.172},{"c":"FCB","i":7,"w":2078,"r":0.175},{"c":"FCB","i":7,"w":2162,"r":0.178},{"c":"FCB","i":7,"w":2230,"r":0.18},{"c":"FCB","i":7,"w":2329,"r":0.18},{"c":"FCB","i":7,"w":2413,"r":0.185},{"c":"FCB","i":7,"w":2497,"r":0.21},{"c":"FCB","i":7,"w":2535,"r":0.28},{"c":"FCB","i":7,"w":2565,"r":0.48},{"c":"FCB","i":7,"w":2592,"r":0.7},
      {"c":"FCB","i":8,"w":983,"r":0.125},{"c":"FCB","i":8,"w":1068,"r":0.127},{"c":"FCB","i":8,"w":1153,"r":0.128},{"c":"FCB","i":8,"w":1205,"r":0.13},{"c":"FCB","i":8,"w":1322,"r":0.138},{"c":"FCB","i":8,"w":1406,"r":0.139},{"c":"FCB","i":8,"w":1491,"r":0.14},{"c":"FCB","i":8,"w":1575,"r":0.141},{"c":"FCB","i":8,"w":1659,"r":0.142},{"c":"FCB","i":8,"w":1743,"r":0.142},{"c":"FCB","i":8,"w":1827,"r":0.143},{"c":"FCB","i":8,"w":1910,"r":0.143},{"c":"FCB","i":8,"w":1950,"r":0.142},{"c":"FCB","i":8,"w":1994,"r":0.144},{"c":"FCB","i":8,"w":2078,"r":0.146},{"c":"FCB","i":8,"w":2162,"r":0.15},{"c":"FCB","i":8,"w":2230,"r":0.152},{"c":"FCB","i":8,"w":2329,"r":0.155},{"c":"FCB","i":8,"w":2413,"r":0.16},{"c":"FCB","i":8,"w":2497,"r":0.18},{"c":"FCB","i":8,"w":2535,"r":0.25},{"c":"FCB","i":8,"w":2565,"r":0.44},{"c":"FCB","i":8,"w":2592,"r":0.64},
      {"c":"PPFCB","i":1,"w":983,"r":0.724},{"c":"PPFCB","i":1,"w":1068,"r":0.7},{"c":"PPFCB","i":1,"w":1153,"r":0.68},{"c":"PPFCB","i":1,"w":1205,"r":0.665},{"c":"PPFCB","i":1,"w":1322,"r":0.664},{"c":"PPFCB","i":1,"w":1406,"r":0.648},{"c":"PPFCB","i":1,"w":1491,"r":0.655},{"c":"PPFCB","i":1,"w":1575,"r":0.658},{"c":"PPFCB","i":1,"w":1659,"r":0.64},{"c":"PPFCB","i":1,"w":1743,"r":0.61},{"c":"PPFCB","i":1,"w":1827,"r":0.645},{"c":"PPFCB","i":1,"w":1910,"r":0.66},{"c":"PPFCB","i":1,"w":1950,"r":0.67},{"c":"PPFCB","i":1,"w":1994,"r":0.68},{"c":"PPFCB","i":1,"w":2078,"r":0.7},{"c":"PPFCB","i":1,"w":2162,"r":0.71},{"c":"PPFCB","i":1,"w":2230,"r":0.72},{"c":"PPFCB","i":1,"w":2329,"r":0.77},{"c":"PPFCB","i":1,"w":2413,"r":0.82},{"c":"PPFCB","i":1,"w":2497,"r":0.94},{"c":"PPFCB","i":1,"w":2535,"r":1.0},{"c":"PPFCB","i":1,"w":2565,"r":1.025},{"c":"PPFCB","i":1,"w":2592,"r":1.04},
      {"c":"PPFCB","i":2,"w":983,"r":0.67},{"c":"PPFCB","i":2,"w":1068,"r":0.655},{"c":"PPFCB","i":2,"w":1153,"r":0.64},{"c":"PPFCB","i":2,"w":1205,"r":0.625},{"c":"PPFCB","i":2,"w":1322,"r":0.615},{"c":"PPFCB","i":2,"w":1406,"r":0.6},{"c":"PPFCB","i":2,"w":1491,"r":0.6},{"c":"PPFCB","i":2,"w":1575,"r":0.605},{"c":"PPFCB","i":2,"w":1659,"r":0.6},{"c":"PPFCB","i":2,"w":1743,"r":0.57},{"c":"PPFCB","i":2,"w":1827,"r":0.6},{"c":"PPFCB","i":2,"w":1910,"r":0.615},{"c":"PPFCB","i":2,"w":1950,"r":0.625},{"c":"PPFCB","i":2,"w":1994,"r":0.64},{"c":"PPFCB","i":2,"w":2078,"r":0.665},{"c":"PPFCB","i":2,"w":2162,"r":0.685},{"c":"PPFCB","i":2,"w":2230,"r":0.7},{"c":"PPFCB","i":2,"w":2329,"r":0.755},{"c":"PPFCB","i":2,"w":2413,"r":0.8},{"c":"PPFCB","i":2,"w":2497,"r":0.92},{"c":"PPFCB","i":2,"w":2535,"r":0.99},{"c":"PPFCB","i":2,"w":2565,"r":1.02},{"c":"PPFCB","i":2,"w":2592,"r":1.035},
      {"c":"PPFCB","i":3,"w":983,"r":0.649},{"c":"PPFCB","i":3,"w":1068,"r":0.635},{"c":"PPFCB","i":3,"w":1153,"r":0.62},{"c":"PPFCB","i":3,"w":1205,"r":0.6},{"c":"PPFCB","i":3,"w":1322,"r":0.589},{"c":"PPFCB","i":3,"w":1406,"r":0.575},{"c":"PPFCB","i":3,"w":1491,"r":0.576},{"c":"PPFCB","i":3,"w":1575,"r":0.578},{"c":"PPFCB","i":3,"w":1659,"r":0.576},{"c":"PPFCB","i":3,"w":1743,"r":0.55},{"c":"PPFCB","i":3,"w":1827,"r":0.575},{"c":"PPFCB","i":3,"w":1910,"r":0.595},{"c":"PPFCB","i":3,"w":1950,"r":0.605},{"c":"PPFCB","i":3,"w":1994,"r":0.62},{"c":"PPFCB","i":3,"w":2078,"r":0.65},{"c":"PPFCB","i":3,"w":2162,"r":0.67},{"c":"PPFCB","i":3,"w":2230,"r":0.69},{"c":"PPFCB","i":3,"w":2329,"r":0.745},{"c":"PPFCB","i":3,"w":2413,"r":0.79},{"c":"PPFCB","i":3,"w":2497,"r":0.91},{"c":"PPFCB","i":3,"w":2535,"r":0.985},{"c":"PPFCB","i":3,"w":2565,"r":1.015},{"c":"PPFCB","i":3,"w":2592,"r":1.03},
      {"c":"PPFCB","i":4,"w":983,"r":0.602},{"c":"PPFCB","i":4,"w":1068,"r":0.59},{"c":"PPFCB","i":4,"w":1153,"r":0.575},{"c":"PPFCB","i":4,"w":1205,"r":0.555},{"c":"PPFCB","i":4,"w":1322,"r":0.53},{"c":"PPFCB","i":4,"w":1406,"r":0.53},{"c":"PPFCB","i":4,"w":1491,"r":0.535},{"c":"PPFCB","i":4,"w":1575,"r":0.538},{"c":"PPFCB","i":4,"w":1659,"r":0.539},{"c":"PPFCB","i":4,"w":1743,"r":0.515},{"c":"PPFCB","i":4,"w":1827,"r":0.54},{"c":"PPFCB","i":4,"w":1910,"r":0.555},{"c":"PPFCB","i":4,"w":1950,"r":0.565},{"c":"PPFCB","i":4,"w":1994,"r":0.58},{"c":"PPFCB","i":4,"w":2078,"r":0.61},{"c":"PPFCB","i":4,"w":2162,"r":0.635},{"c":"PPFCB","i":4,"w":2230,"r":0.655},{"c":"PPFCB","i":4,"w":2329,"r":0.72},{"c":"PPFCB","i":4,"w":2413,"r":0.77},{"c":"PPFCB","i":4,"w":2497,"r":0.9},{"c":"PPFCB","i":4,"w":2535,"r":0.98},{"c":"PPFCB","i":4,"w":2565,"r":1.01},{"c":"PPFCB","i":4,"w":2592,"r":1.03},
      {"c":"PPFCB","i":5,"w":983,"r":0.57},{"c":"PPFCB","i":5,"w":1068,"r":0.555},{"c":"PPFCB","i":5,"w":1153,"r":0.54},{"c":"PPFCB","i":5,"w":1205,"r":0.52},{"c":"PPFCB","i":5,"w":1322,"r":0.508},{"c":"PPFCB","i":5,"w":1406,"r":0.505},{"c":"PPFCB","i":5,"w":1491,"r":0.507},{"c":"PPFCB","i":5,"w":1575,"r":0.508},{"c":"PPFCB","i":5,"w":1659,"r":0.508},{"c":"PPFCB","i":5,"w":1743,"r":0.49},{"c":"PPFCB","i":5,"w":1827,"r":0.515},{"c":"PPFCB","i":5,"w":1910,"r":0.53},{"c":"PPFCB","i":5,"w":1950,"r":0.54},{"c":"PPFCB","i":5,"w":1994,"r":0.555},{"c":"PPFCB","i":5,"w":2078,"r":0.59},{"c":"PPFCB","i":5,"w":2162,"r":0.62},{"c":"PPFCB","i":5,"w":2230,"r":0.64},{"c":"PPFCB","i":5,"w":2329,"r":0.705},{"c":"PPFCB","i":5,"w":2413,"r":0.76},{"c":"PPFCB","i":5,"w":2497,"r":0.89},{"c":"PPFCB","i":5,"w":2535,"r":0.975},{"c":"PPFCB","i":5,"w":2565,"r":1.01},{"c":"PPFCB","i":5,"w":2592,"r":1.03},
      {"c":"PPFCB","i":6,"w":983,"r":0.545},{"c":"PPFCB","i":6,"w":1068,"r":0.53},{"c":"PPFCB","i":6,"w":1153,"r":0.515},{"c":"PPFCB","i":6,"w":1205,"r":0.495},{"c":"PPFCB","i":6,"w":1322,"r":0.48},{"c":"PPFCB","i":6,"w":1406,"r":0.48},{"c":"PPFCB","i":6,"w":1491,"r":0.485},{"c":"PPFCB","i":6,"w":1575,"r":0.487},{"c":"PPFCB","i":6,"w":1659,"r":0.489},{"c":"PPFCB","i":6,"w":1743,"r":0.47},{"c":"PPFCB","i":6,"w":1827,"r":0.485},{"c":"PPFCB","i":6,"w":1910,"r":0.5},{"c":"PPFCB","i":6,"w":1950,"r":0.51},{"c":"PPFCB","i":6,"w":1994,"r":0.53},{"c":"PPFCB","i":6,"w":2078,"r":0.57},{"c":"PPFCB","i":6,"w":2162,"r":0.6},{"c":"PPFCB","i":6,"w":2230,"r":0.625},{"c":"PPFCB","i":6,"w":2329,"r":0.69},{"c":"PPFCB","i":6,"w":2413,"r":0.75},{"c":"PPFCB","i":6,"w":2497,"r":0.88},{"c":"PPFCB","i":6,"w":2535,"r":0.97},{"c":"PPFCB","i":6,"w":2565,"r":1.005},{"c":"PPFCB","i":6,"w":2592,"r":1.025},
      {"c":"PPFCB","i":7,"w":983,"r":0.5},{"c":"PPFCB","i":7,"w":1068,"r":0.48},{"c":"PPFCB","i":7,"w":1153,"r":0.46},{"c":"PPFCB","i":7,"w":1205,"r":0.44},{"c":"PPFCB","i":7,"w":1322,"r":0.426},{"c":"PPFCB","i":7,"w":1406,"r":0.426},{"c":"PPFCB","i":7,"w":1491,"r":0.427},{"c":"PPFCB","i":7,"w":1575,"r":0.427},{"c":"PPFCB","i":7,"w":1659,"r":0.428},{"c":"PPFCB","i":7,"w":1743,"r":0.42},{"c":"PPFCB","i":7,"w":1827,"r":0.43},{"c":"PPFCB","i":7,"w":1910,"r":0.445},{"c":"PPFCB","i":7,"w":1950,"r":0.46},{"c":"PPFCB","i":7,"w":1994,"r":0.48},{"c":"PPFCB","i":7,"w":2078,"r":0.525},{"c":"PPFCB","i":7,"w":2162,"r":0.56},{"c":"PPFCB","i":7,"w":2230,"r":0.59},{"c":"PPFCB","i":7,"w":2329,"r":0.66},{"c":"PPFCB","i":7,"w":2413,"r":0.735},{"c":"PPFCB","i":7,"w":2497,"r":0.865},{"c":"PPFCB","i":7,"w":2535,"r":0.96},{"c":"PPFCB","i":7,"w":2565,"r":1.0},{"c":"PPFCB","i":7,"w":2592,"r":1.02},
      {"c":"CB","i":1,"w":983,"r":0.116},{"c":"CB","i":1,"w":1068,"r":0.118},{"c":"CB","i":1,"w":1153,"r":0.12},{"c":"CB","i":1,"w":1205,"r":0.123},{"c":"CB","i":1,"w":1322,"r":0.135},{"c":"CB","i":1,"w":1406,"r":0.14},{"c":"CB","i":1,"w":1491,"r":0.145},{"c":"CB","i":1,"w":1575,"r":0.148},{"c":"CB","i":1,"w":1659,"r":0.15},{"c":"CB","i":1,"w":1743,"r":0.152},{"c":"CB","i":1,"w":1827,"r":0.154},{"c":"CB","i":1,"w":1910,"r":0.156},{"c":"CB","i":1,"w":1950,"r":0.157},{"c":"CB","i":1,"w":1994,"r":0.16},{"c":"CB","i":1,"w":2078,"r":0.165},{"c":"CB","i":1,"w":2162,"r":0.172},{"c":"CB","i":1,"w":2230,"r":0.18},{"c":"CB","i":1,"w":2329,"r":0.19},{"c":"CB","i":1,"w":2413,"r":0.216},{"c":"CB","i":1,"w":2497,"r":0.275},{"c":"CB","i":1,"w":2535,"r":0.4},{"c":"CB","i":1,"w":2565,"r":0.8},{"c":"CB","i":1,"w":2592,"r":1.68},
      {"c":"CB","i":2,"w":983,"r":0.1},{"c":"CB","i":2,"w":1068,"r":0.102},{"c":"CB","i":2,"w":1153,"r":0.104},{"c":"CB","i":2,"w":1205,"r":0.106},{"c":"CB","i":2,"w":1322,"r":0.115},{"c":"CB","i":2,"w":1406,"r":0.12},{"c":"CB","i":2,"w":1491,"r":0.124},{"c":"CB","i":2,"w":1575,"r":0.127},{"c":"CB","i":2,"w":1659,"r":0.13},{"c":"CB","i":2,"w":1743,"r":0.132},{"c":"CB","i":2,"w":1827,"r":0.134},{"c":"CB","i":2,"w":1910,"r":0.136},{"c":"CB","i":2,"w":1950,"r":0.137},{"c":"CB","i":2,"w":1994,"r":0.14},{"c":"CB","i":2,"w":2078,"r":0.145},{"c":"CB","i":2,"w":2162,"r":0.152},{"c":"CB","i":2,"w":2230,"r":0.16},{"c":"CB","i":2,"w":2329,"r":0.172},{"c":"CB","i":2,"w":2413,"r":0.195},{"c":"CB","i":2,"w":2497,"r":0.25},{"c":"CB","i":2,"w":2535,"r":0.36},{"c":"CB","i":2,"w":2565,"r":0.7},{"c":"CB","i":2,"w":2592,"r":1.45},
      {"c":"CB","i":3,"w":983,"r":0.094},{"c":"CB","i":3,"w":1068,"r":0.096},{"c":"CB","i":3,"w":1153,"r":0.098},{"c":"CB","i":3,"w":1205,"r":0.1},{"c":"CB","i":3,"w":1322,"r":0.108},{"c":"CB","i":3,"w":1406,"r":0.113},{"c":"CB","i":3,"w":1491,"r":0.117},{"c":"CB","i":3,"w":1575,"r":0.12},{"c":"CB","i":3,"w":1659,"r":0.123},{"c":"CB","i":3,"w":1743,"r":0.125},{"c":"CB","i":3,"w":1827,"r":0.127},{"c":"CB","i":3,"w":1910,"r":0.128},{"c":"CB","i":3,"w":1950,"r":0.129},{"c":"CB","i":3,"w":1994,"r":0.132},{"c":"CB","i":3,"w":2078,"r":0.137},{"c":"CB","i":3,"w":2162,"r":0.144},{"c":"CB","i":3,"w":2230,"r":0.151},{"c":"CB","i":3,"w":2329,"r":0.161},{"c":"CB","i":3,"w":2413,"r":0.182},{"c":"CB","i":3,"w":2497,"r":0.232},{"c":"CB","i":3,"w":2535,"r":0.33},{"c":"CB","i":3,"w":2565,"r":0.62},{"c":"CB","i":3,"w":2592,"r":1.25},
      {"c":"CB","i":4,"w":983,"r":0.088},{"c":"CB","i":4,"w":1068,"r":0.09},{"c":"CB","i":4,"w":1153,"r":0.092},{"c":"CB","i":4,"w":1205,"r":0.094},{"c":"CB","i":4,"w":1322,"r":0.102},{"c":"CB","i":4,"w":1406,"r":0.107},{"c":"CB","i":4,"w":1491,"r":0.111},{"c":"CB","i":4,"w":1575,"r":0.114},{"c":"CB","i":4,"w":1659,"r":0.117},{"c":"CB","i":4,"w":1743,"r":0.119},{"c":"CB","i":4,"w":1827,"r":0.121},{"c":"CB","i":4,"w":1910,"r":0.122},{"c":"CB","i":4,"w":1950,"r":0.123},{"c":"CB","i":4,"w":1994,"r":0.126},{"c":"CB","i":4,"w":2078,"r":0.131},{"c":"CB","i":4,"w":2162,"r":0.137},{"c":"CB","i":4,"w":2230,"r":0.144},{"c":"CB","i":4,"w":2329,"r":0.153},{"c":"CB","i":4,"w":2413,"r":0.172},{"c":"CB","i":4,"w":2497,"r":0.215},{"c":"CB","i":4,"w":2535,"r":0.3},{"c":"CB","i":4,"w":2565,"r":0.55},{"c":"CB","i":4,"w":2592,"r":1.1},
      {"c":"CB","i":5,"w":983,"r":0.082},{"c":"CB","i":5,"w":1068,"r":0.084},{"c":"CB","i":5,"w":1153,"r":0.086},{"c":"CB","i":5,"w":1205,"r":0.088},{"c":"CB","i":5,"w":1322,"r":0.096},{"c":"CB","i":5,"w":1406,"r":0.101},{"c":"CB","i":5,"w":1491,"r":0.105},{"c":"CB","i":5,"w":1575,"r":0.108},{"c":"CB","i":5,"w":1659,"r":0.111},{"c":"CB","i":5,"w":1743,"r":0.113},{"c":"CB","i":5,"w":1827,"r":0.115},{"c":"CB","i":5,"w":1910,"r":0.116},{"c":"CB","i":5,"w":1950,"r":0.117},{"c":"CB","i":5,"w":1994,"r":0.12},{"c":"CB","i":5,"w":2078,"r":0.124},{"c":"CB","i":5,"w":2162,"r":0.13},{"c":"CB","i":5,"w":2230,"r":0.136},{"c":"CB","i":5,"w":2329,"r":0.145},{"c":"CB","i":5,"w":2413,"r":0.16},{"c":"CB","i":5,"w":2497,"r":0.195},{"c":"CB","i":5,"w":2535,"r":0.27},{"c":"CB","i":5,"w":2565,"r":0.46},{"c":"CB","i":5,"w":2592,"r":0.55},
      {"c":"CB","i":6,"w":983,"r":0.077},{"c":"CB","i":6,"w":1068,"r":0.079},{"c":"CB","i":6,"w":1153,"r":0.081},{"c":"CB","i":6,"w":1205,"r":0.083},{"c":"CB","i":6,"w":1322,"r":0.091},{"c":"CB","i":6,"w":1406,"r":0.096},{"c":"CB","i":6,"w":1491,"r":0.1},{"c":"CB","i":6,"w":1575,"r":0.103},{"c":"CB","i":6,"w":1659,"r":0.106},{"c":"CB","i":6,"w":1743,"r":0.108},{"c":"CB","i":6,"w":1827,"r":0.11},{"c":"CB","i":6,"w":1910,"r":0.111},{"c":"CB","i":6,"w":1950,"r":0.112},{"c":"CB","i":6,"w":1994,"r":0.114},{"c":"CB","i":6,"w":2078,"r":0.118},{"c":"CB","i":6,"w":2162,"r":0.123},{"c":"CB","i":6,"w":2230,"r":0.128},{"c":"CB","i":6,"w":2329,"r":0.135},{"c":"CB","i":6,"w":2413,"r":0.148},{"c":"CB","i":6,"w":2497,"r":0.18},{"c":"CB","i":6,"w":2535,"r":0.24},{"c":"CB","i":6,"w":2565,"r":0.45},{"c":"CB","i":6,"w":2592,"r":0.9}
    ],
    "bot": [
      {"c":"SC","i":1,"w":1204,"r":0.777},{"c":"SC","i":1,"w":1378,"r":0.795},{"c":"SC","i":1,"w":1435,"r":0.711},{"c":"SC","i":1,"w":1603,"r":0.682},{"c":"SC","i":1,"w":1620,"r":0.701},{"c":"SC","i":1,"w":1720,"r":0.7},{"c":"SC","i":1,"w":1743,"r":0.69},{"c":"SC","i":1,"w":1748,"r":0.687},{"c":"SC","i":1,"w":1899,"r":0.602},{"c":"SC","i":1,"w":1977,"r":0.575},{"c":"SC","i":1,"w":2229,"r":0.545},{"c":"SC","i":1,"w":2335,"r":0.443},
      {"c":"SC","i":2,"w":1204,"r":0.756},{"c":"SC","i":2,"w":1378,"r":0.765},{"c":"SC","i":2,"w":1435,"r":0.682},{"c":"SC","i":2,"w":1603,"r":0.663},{"c":"SC","i":2,"w":1620,"r":0.679},{"c":"SC","i":2,"w":1720,"r":0.68},{"c":"SC","i":2,"w":1743,"r":0.669},{"c":"SC","i":2,"w":1748,"r":0.665},{"c":"SC","i":2,"w":1899,"r":0.585},{"c":"SC","i":2,"w":1977,"r":0.56},{"c":"SC","i":2,"w":2229,"r":0.519},{"c":"SC","i":2,"w":2335,"r":0.43},
      {"c":"SC","i":3,"w":1204,"r":0.748},{"c":"SC","i":3,"w":1378,"r":0.755},{"c":"SC","i":3,"w":1435,"r":0.662},{"c":"SC","i":3,"w":1603,"r":0.64},{"c":"SC","i":3,"w":1620,"r":0.655},{"c":"SC","i":3,"w":1720,"r":0.655},{"c":"SC","i":3,"w":1743,"r":0.652},{"c":"SC","i":3,"w":1748,"r":0.65},{"c":"SC","i":3,"w":1899,"r":0.56},{"c":"SC","i":3,"w":1977,"r":0.532},{"c":"SC","i":3,"w":2229,"r":0.489},{"c":"SC","i":3,"w":2335,"r":0.415},
      {"c":"SC","i":4,"w":1204,"r":0.73},{"c":"SC","i":4,"w":1378,"r":0.737},{"c":"SC","i":4,"w":1435,"r":0.65},{"c":"SC","i":4,"w":1603,"r":0.629},{"c":"SC","i":4,"w":1620,"r":0.645},{"c":"SC","i":4,"w":1720,"r":0.648},{"c":"SC","i":4,"w":1743,"r":0.64},{"c":"SC","i":4,"w":1748,"r":0.638},{"c":"SC","i":4,"w":1899,"r":0.548},{"c":"SC","i":4,"w":1977,"r":0.522},{"c":"SC","i":4,"w":2229,"r":0.475},{"c":"SC","i":4,"w":2335,"r":0.395},
      {"c":"SC","i":5,"w":1204,"r":0.699},{"c":"SC","i":5,"w":1378,"r":0.708},{"c":"SC","i":5,"w":1435,"r":0.629},{"c":"SC","i":5,"w":1603,"r":0.605},{"c":"SC","i":5,"w":1620,"r":0.618},{"c":"SC","i":5,"w":1720,"r":0.562},{"c":"SC","i":5,"w":1743,"r":0.555},{"c":"SC","i":5,"w":1748,"r":0.552},{"c":"SC","i":5,"w":1899,"r":0.5},{"c":"SC","i":5,"w":1977,"r":0.47},{"c":"SC","i":5,"w":2229,"r":0.44},{"c":"SC","i":5,"w":2335,"r":0.38},
      {"c":"SC","i":6,"w":1204,"r":0.64},{"c":"SC","i":6,"w":1378,"r":0.661},{"c":"SC","i":6,"w":1435,"r":0.6},{"c":"SC","i":6,"w":1603,"r":0.56},{"c":"SC","i":6,"w":1620,"r":0.59},{"c":"SC","i":6,"w":1720,"r":0.556},{"c":"SC","i":6,"w":1743,"r":0.548},{"c":"SC","i":6,"w":1748,"r":0.545},{"c":"SC","i":6,"w":1899,"r":0.49},{"c":"SC","i":6,"w":1977,"r":0.46},{"c":"SC","i":6,"w":2229,"r":0.43},{"c":"SC","i":6,"w":2335,"r":0.37},
      {"c":"SC","i":7,"w":1204,"r":0.602},{"c":"SC","i":7,"w":1378,"r":0.625},{"c":"SC","i":7,"w":1435,"r":0.562},{"c":"SC","i":7,"w":1603,"r":0.52},{"c":"SC","i":7,"w":1620,"r":0.545},{"c":"SC","i":7,"w":1720,"r":0.52},{"c":"SC","i":7,"w":1743,"r":0.513},{"c":"SC","i":7,"w":1748,"r":0.51},{"c":"SC","i":7,"w":1899,"r":0.47},{"c":"SC","i":7,"w":1977,"r":0.452},{"c":"SC","i":7,"w":2229,"r":0.415},{"c":"SC","i":7,"w":2335,"r":0.35},
      {"c":"SC","i":8,"w":1204,"r":0.575},{"c":"SC","i":8,"w":1378,"r":0.585},{"c":"SC","i":8,"w":1435,"r":0.532},{"c":"SC","i":8,"w":1603,"r":0.505},{"c":"SC","i":8,"w":1620,"r":0.51},{"c":"SC","i":8,"w":1720,"r":0.505},{"c":"SC","i":8,"w":1743,"r":0.5},{"c":"SC","i":8,"w":1748,"r":0.497},{"c":"SC","i":8,"w":1899,"r":0.455},{"c":"SC","i":8,"w":1977,"r":0.44},{"c":"SC","i":8,"w":2229,"r":0.405},{"c":"SC","i":8,"w":2335,"r":0.34},
      {"c":"SC","i":9,"w":1204,"r":0.5},{"c":"SC","i":9,"w":1378,"r":0.51},{"c":"SC","i":9,"w":1435,"r":0.457},{"c":"SC","i":9,"w":1603,"r":0.441},{"c":"SC","i":9,"w":1620,"r":0.452},{"c":"SC","i":9,"w":1720,"r":0.452},{"c":"SC","i":9,"w":1743,"r":0.45},{"c":"SC","i":9,"w":1748,"r":0.448},{"c":"SC","i":9,"w":1899,"r":0.395},{"c":"SC","i":9,"w":1977,"r":0.355},{"c":"SC","i":9,"w":2229,"r":0.329},{"c":"SC","i":9,"w":2335,"r":0.25},
      {"c":"FC","i":1,"w":1204,"r":0.763},{"c":"FC","i":1,"w":1378,"r":0.782},{"c":"FC","i":1,"w":1435,"r":0.706},{"c":"FC","i":1,"w":1603,"r":0.69},{"c":"FC","i":1,"w":1620,"r":0.706},{"c":"FC","i":1,"w":1720,"r":0.666},{"c":"FC","i":1,"w":1743,"r":0.653},{"c":"FC","i":1,"w":1748,"r":0.65},{"c":"FC","i":1,"w":1899,"r":0.618},{"c":"FC","i":1,"w":1977,"r":0.591},{"c":"FC","i":1,"w":2229,"r":0.587},{"c":"FC","i":1,"w":2335,"r":0.44},
      {"c":"FC","i":2,"w":1204,"r":0.686},{"c":"FC","i":2,"w":1378,"r":0.7},{"c":"FC","i":2,"w":1435,"r":0.634},{"c":"FC","i":2,"w":1603,"r":0.618},{"c":"FC","i":2,"w":1620,"r":0.63},{"c":"FC","i":2,"w":1720,"r":0.59},{"c":"FC","i":2,"w":1743,"r":0.585},{"c":"FC","i":2,"w":1748,"r":0.583},{"c":"FC","i":2,"w":1899,"r":0.511},{"c":"FC","i":2,"w":1977,"r":0.489},{"c":"FC","i":2,"w":2229,"r":0.47},{"c":"FC","i":2,"w":2335,"r":0.355},
      {"c":"FC","i":3,"w":1204,"r":0.672},{"c":"FC","i":3,"w":1378,"r":0.69},{"c":"FC","i":3,"w":1435,"r":0.61},{"c":"FC","i":3,"w":1603,"r":0.595},{"c":"FC","i":3,"w":1620,"r":0.6},{"c":"FC","i":3,"w":1720,"r":0.565},{"c":"FC","i":3,"w":1743,"r":0.56},{"c":"FC","i":3,"w":1748,"r":0.557},{"c":"FC","i":3,"w":1899,"r":0.5},{"c":"FC","i":3,"w":1977,"r":0.478},{"c":"FC","i":3,"w":2229,"r":0.455},{"c":"FC","i":3,"w":2335,"r":0.34},
      {"c":"FC","i":4,"w":1204,"r":0.651},{"c":"FC","i":4,"w":1378,"r":0.67},{"c":"FC","i":4,"w":1435,"r":0.595},{"c":"FC","i":4,"w":1603,"r":0.58},{"c":"FC","i":4,"w":1620,"r":0.59},{"c":"FC","i":4,"w":1720,"r":0.553},{"c":"FC","i":4,"w":1743,"r":0.548},{"c":"FC","i":4,"w":1748,"r":0.545},{"c":"FC","i":4,"w":1899,"r":0.493},{"c":"FC","i":4,"w":1977,"r":0.472},{"c":"FC","i":4,"w":2229,"r":0.44},{"c":"FC","i":4,"w":2335,"r":0.325},
      {"c":"FC","i":5,"w":1204,"r":0.615},{"c":"FC","i":5,"w":1378,"r":0.64},{"c":"FC","i":5,"w":1435,"r":0.58},{"c":"FC","i":5,"w":1603,"r":0.565},{"c":"FC","i":5,"w":1620,"r":0.575},{"c":"FC","i":5,"w":1720,"r":0.54},{"c":"FC","i":5,"w":1743,"r":0.535},{"c":"FC","i":5,"w":1748,"r":0.532},{"c":"FC","i":5,"w":1899,"r":0.485},{"c":"FC","i":5,"w":1977,"r":0.465},{"c":"FC","i":5,"w":2229,"r":0.43},{"c":"FC","i":5,"w":2335,"r":0.31},
      {"c":"FC","i":6,"w":1204,"r":0.578},{"c":"FC","i":6,"w":1378,"r":0.602},{"c":"FC","i":6,"w":1435,"r":0.55},{"c":"FC","i":6,"w":1603,"r":0.54},{"c":"FC","i":6,"w":1620,"r":0.55},{"c":"FC","i":6,"w":1720,"r":0.532},{"c":"FC","i":6,"w":1743,"r":0.527},{"c":"FC","i":6,"w":1748,"r":0.525},{"c":"FC","i":6,"w":1899,"r":0.48},{"c":"FC","i":6,"w":1977,"r":0.46},{"c":"FC","i":6,"w":2229,"r":0.42},{"c":"FC","i":6,"w":2335,"r":0.3},
      {"c":"FC","i":7,"w":1204,"r":0.398},{"c":"FC","i":7,"w":1378,"r":0.42},{"c":"FC","i":7,"w":1435,"r":0.383},{"c":"FC","i":7,"w":1603,"r":0.379},{"c":"FC","i":7,"w":1620,"r":0.388},{"c":"FC","i":7,"w":1720,"r":0.363},{"c":"FC","i":7,"w":1743,"r":0.353},{"c":"FC","i":7,"w":1748,"r":0.35},{"c":"FC","i":7,"w":1899,"r":0.331},{"c":"FC","i":7,"w":1977,"r":0.318},{"c":"FC","i":7,"w":2229,"r":0.318},{"c":"FC","i":7,"w":2335,"r":0.243},
      {"c":"FC","i":8,"w":1204,"r":0.37},{"c":"FC","i":8,"w":1378,"r":0.388},{"c":"FC","i":8,"w":1435,"r":0.358},{"c":"FC","i":8,"w":1603,"r":0.354},{"c":"FC","i":8,"w":1620,"r":0.361},{"c":"FC","i":8,"w":1720,"r":0.339},{"c":"FC","i":8,"w":1743,"r":0.331},{"c":"FC","i":8,"w":1748,"r":0.328},{"c":"FC","i":8,"w":1899,"r":0.31},{"c":"FC","i":8,"w":1977,"r":0.302},{"c":"FC","i":8,"w":2229,"r":0.302},{"c":"FC","i":8,"w":2335,"r":0.23},
      {"c":"FC","i":9,"w":1204,"r":0.332},{"c":"FC","i":9,"w":1378,"r":0.347},{"c":"FC","i":9,"w":1435,"r":0.318},{"c":"FC","i":9,"w":1603,"r":0.313},{"c":"FC","i":9,"w":1620,"r":0.318},{"c":"FC","i":9,"w":1720,"r":0.296},{"c":"FC","i":9,"w":1743,"r":0.289},{"c":"FC","i":9,"w":1748,"r":0.287},{"c":"FC","i":9,"w":1899,"r":0.27},{"c":"FC","i":9,"w":1977,"r":0.259},{"c":"FC","i":9,"w":2229,"r":0.259},{"c":"FC","i":9,"w":2335,"r":0.197},
      {"c":"PPFC","i":1,"w":1204,"r":0.832},{"c":"PPFC","i":1,"w":1378,"r":0.856},{"c":"PPFC","i":1,"w":1435,"r":0.832},{"c":"PPFC","i":1,"w":1603,"r":0.825},{"c":"PPFC","i":1,"w":1620,"r":0.825},{"c":"PPFC","i":1,"w":1720,"r":0.662},{"c":"PPFC","i":1,"w":1743,"r":0.666},{"c":"PPFC","i":1,"w":1748,"r":0.669},{"c":"PPFC","i":1,"w":1899,"r":0.7},{"c":"PPFC","i":1,"w":1977,"r":0.693},{"c":"PPFC","i":1,"w":2229,"r":0.655},{"c":"PPFC","i":1,"w":2335,"r":0.24},
      {"c":"PPFC","i":2,"w":1204,"r":0.763},{"c":"PPFC","i":2,"w":1378,"r":0.797},{"c":"PPFC","i":2,"w":1435,"r":0.761},{"c":"PPFC","i":2,"w":1603,"r":0.765},{"c":"PPFC","i":2,"w":1620,"r":0.768},{"c":"PPFC","i":2,"w":1720,"r":0.607},{"c":"PPFC","i":2,"w":1743,"r":0.612},{"c":"PPFC","i":2,"w":1748,"r":0.616},{"c":"PPFC","i":2,"w":1899,"r":0.652},{"c":"PPFC","i":2,"w":1977,"r":0.642},{"c":"PPFC","i":2,"w":2229,"r":0.605},{"c":"PPFC","i":2,"w":2335,"r":0.29},
      {"c":"PPFC","i":3,"w":1204,"r":0.59},{"c":"PPFC","i":3,"w":1378,"r":0.607},{"c":"PPFC","i":3,"w":1435,"r":0.575},{"c":"PPFC","i":3,"w":1603,"r":0.57},{"c":"PPFC","i":3,"w":1620,"r":0.572},{"c":"PPFC","i":3,"w":1720,"r":0.51},{"c":"PPFC","i":3,"w":1743,"r":0.505},{"c":"PPFC","i":3,"w":1748,"r":0.505},{"c":"PPFC","i":3,"w":1899,"r":0.5},{"c":"PPFC","i":3,"w":1977,"r":0.495},{"c":"PPFC","i":3,"w":2229,"r":0.47},{"c":"PPFC","i":3,"w":2335,"r":0.385},
      {"c":"PPFC","i":4,"w":1204,"r":0.568},{"c":"PPFC","i":4,"w":1378,"r":0.59},{"c":"PPFC","i":4,"w":1435,"r":0.56},{"c":"PPFC","i":4,"w":1603,"r":0.56},{"c":"PPFC","i":4,"w":1620,"r":0.563},{"c":"PPFC","i":4,"w":1720,"r":0.485},{"c":"PPFC","i":4,"w":1743,"r":0.48},{"c":"PPFC","i":4,"w":1748,"r":0.48},{"c":"PPFC","i":4,"w":1899,"r":0.47},{"c":"PPFC","i":4,"w":1977,"r":0.468},{"c":"PPFC","i":4,"w":2229,"r":0.455},{"c":"PPFC","i":4,"w":2335,"r":0.3},
      {"c":"PPFC","i":5,"w":1204,"r":0.55},{"c":"PPFC","i":5,"w":1378,"r":0.575},{"c":"PPFC","i":5,"w":1435,"r":0.54},{"c":"PPFC","i":5,"w":1603,"r":0.545},{"c":"PPFC","i":5,"w":1620,"r":0.548},{"c":"PPFC","i":5,"w":1720,"r":0.475},{"c":"PPFC","i":5,"w":1743,"r":0.473},{"c":"PPFC","i":5,"w":1748,"r":0.472},{"c":"PPFC","i":5,"w":1899,"r":0.463},{"c":"PPFC","i":5,"w":1977,"r":0.458},{"c":"PPFC","i":5,"w":2229,"r":0.445},{"c":"PPFC","i":5,"w":2335,"r":0.275},
      {"c":"PPFC","i":6,"w":1204,"r":0.54},{"c":"PPFC","i":6,"w":1378,"r":0.565},{"c":"PPFC","i":6,"w":1435,"r":0.53},{"c":"PPFC","i":6,"w":1603,"r":0.532},{"c":"PPFC","i":6,"w":1620,"r":0.536},{"c":"PPFC","i":6,"w":1720,"r":0.468},{"c":"PPFC","i":6,"w":1743,"r":0.466},{"c":"PPFC","i":6,"w":1748,"r":0.465},{"c":"PPFC","i":6,"w":1899,"r":0.455},{"c":"PPFC","i":6,"w":1977,"r":0.45},{"c":"PPFC","i":6,"w":2229,"r":0.432},{"c":"PPFC","i":6,"w":2335,"r":0.265},
      {"c":"PPFC","i":7,"w":1204,"r":0.512},{"c":"PPFC","i":7,"w":1378,"r":0.545},{"c":"PPFC","i":7,"w":1435,"r":0.503},{"c":"PPFC","i":7,"w":1603,"r":0.5},{"c":"PPFC","i":7,"w":1620,"r":0.505},{"c":"PPFC","i":7,"w":1720,"r":0.44},{"c":"PPFC","i":7,"w":1743,"r":0.438},{"c":"PPFC","i":7,"w":1748,"r":0.438},{"c":"PPFC","i":7,"w":1899,"r":0.445},{"c":"PPFC","i":7,"w":1977,"r":0.44},{"c":"PPFC","i":7,"w":2229,"r":0.42},{"c":"PPFC","i":7,"w":2335,"r":0.25},
      {"c":"PPFC","i":8,"w":1204,"r":0.475},{"c":"PPFC","i":8,"w":1378,"r":0.503},{"c":"PPFC","i":8,"w":1435,"r":0.468},{"c":"PPFC","i":8,"w":1603,"r":0.468},{"c":"PPFC","i":8,"w":1620,"r":0.472},{"c":"PPFC","i":8,"w":1720,"r":0.4},{"c":"PPFC","i":8,"w":1743,"r":0.4},{"c":"PPFC","i":8,"w":1748,"r":0.4},{"c":"PPFC","i":8,"w":1899,"r":0.403},{"c":"PPFC","i":8,"w":1977,"r":0.395},{"c":"PPFC","i":8,"w":2229,"r":0.38},{"c":"PPFC","i":8,"w":2335,"r":0.225},
      {"c":"FCB","i":1,"w":1204,"r":0.456},{"c":"FCB","i":1,"w":1378,"r":0.521},{"c":"FCB","i":1,"w":1435,"r":0.548},{"c":"FCB","i":1,"w":1603,"r":0.587},{"c":"FCB","i":1,"w":1620,"r":0.59},{"c":"FCB","i":1,"w":1720,"r":0.588},{"c":"FCB","i":1,"w":1743,"r":0.584},{"c":"FCB","i":1,"w":1748,"r":0.583},{"c":"FCB","i":1,"w":1899,"r":0.591},{"c":"FCB","i":1,"w":1977,"r":0.599},{"c":"FCB","i":1,"w":2229,"r":0.631},{"c":"FCB","i":1,"w":2335,"r":0.637},
      {"c":"FCB","i":2,"w":1204,"r":0.28},{"c":"FCB","i":2,"w":1378,"r":0.297},{"c":"FCB","i":2,"w":1435,"r":0.297},{"c":"FCB","i":2,"w":1603,"r":0.292},{"c":"FCB","i":2,"w":1620,"r":0.292},{"c":"FCB","i":2,"w":1720,"r":0.256},{"c":"FCB","i":2,"w":1743,"r":0.25},{"c":"FCB","i":2,"w":1748,"r":0.249},{"c":"FCB","i":2,"w":1899,"r":0.242},{"c":"FCB","i":2,"w":1977,"r":0.238},{"c":"FCB","i":2,"w":2229,"r":0.235},{"c":"FCB","i":2,"w":2335,"r":0.215},
      {"c":"FCB","i":3,"w":1204,"r":0.264},{"c":"FCB","i":3,"w":1378,"r":0.281},{"c":"FCB","i":3,"w":1435,"r":0.281},{"c":"FCB","i":3,"w":1603,"r":0.28},{"c":"FCB","i":3,"w":1620,"r":0.28},{"c":"FCB","i":3,"w":1720,"r":0.25},{"c":"FCB","i":3,"w":1743,"r":0.247},{"c":"FCB","i":3,"w":1748,"r":0.246},{"c":"FCB","i":3,"w":1899,"r":0.243},{"c":"FCB","i":3,"w":1977,"r":0.24},{"c":"FCB","i":3,"w":2229,"r":0.238},{"c":"FCB","i":3,"w":2335,"r":0.205},
      {"c":"FCB","i":4,"w":1204,"r":0.25},{"c":"FCB","i":4,"w":1378,"r":0.274},{"c":"FCB","i":4,"w":1435,"r":0.275},{"c":"FCB","i":4,"w":1603,"r":0.276},{"c":"FCB","i":4,"w":1620,"r":0.275},{"c":"FCB","i":4,"w":1720,"r":0.238},{"c":"FCB","i":4,"w":1743,"r":0.236},{"c":"FCB","i":4,"w":1748,"r":0.236},{"c":"FCB","i":4,"w":1899,"r":0.234},{"c":"FCB","i":4,"w":1977,"r":0.236},{"c":"FCB","i":4,"w":2229,"r":0.244},{"c":"FCB","i":4,"w":2335,"r":0.238},
      {"c":"FCB","i":5,"w":1204,"r":0.215},{"c":"FCB","i":5,"w":1378,"r":0.234},{"c":"FCB","i":5,"w":1435,"r":0.237},{"c":"FCB","i":5,"w":1603,"r":0.238},{"c":"FCB","i":5,"w":1620,"r":0.238},{"c":"FCB","i":5,"w":1720,"r":0.229},{"c":"FCB","i":5,"w":1743,"r":0.228},{"c":"FCB","i":5,"w":1748,"r":0.227},{"c":"FCB","i":5,"w":1899,"r":0.225},{"c":"FCB","i":5,"w":1977,"r":0.229},{"c":"FCB","i":5,"w":2229,"r":0.232},{"c":"FCB","i":5,"w":2335,"r":0.226},
      {"c":"FCB","i":6,"w":1204,"r":0.19},{"c":"FCB","i":6,"w":1378,"r":0.205},{"c":"FCB","i":6,"w":1435,"r":0.208},{"c":"FCB","i":6,"w":1603,"r":0.211},{"c":"FCB","i":6,"w":1620,"r":0.211},{"c":"FCB","i":6,"w":1720,"r":0.203},{"c":"FCB","i":6,"w":1743,"r":0.202},{"c":"FCB","i":6,"w":1748,"r":0.202},{"c":"FCB","i":6,"w":1899,"r":0.203},{"c":"FCB","i":6,"w":1977,"r":0.208},{"c":"FCB","i":6,"w":2229,"r":0.228},{"c":"FCB","i":6,"w":2335,"r":0.236},
      {"c":"FCB","i":7,"w":1204,"r":0.174},{"c":"FCB","i":7,"w":1378,"r":0.174},{"c":"FCB","i":7,"w":1435,"r":0.17},{"c":"FCB","i":7,"w":1603,"r":0.165},{"c":"FCB","i":7,"w":1620,"r":0.166},{"c":"FCB","i":7,"w":1720,"r":0.166},{"c":"FCB","i":7,"w":1743,"r":0.166},{"c":"FCB","i":7,"w":1748,"r":0.167},{"c":"FCB","i":7,"w":1899,"r":0.17},{"c":"FCB","i":7,"w":1977,"r":0.173},{"c":"FCB","i":7,"w":2229,"r":0.19},{"c":"FCB","i":7,"w":2335,"r":0.195},
      {"c":"FCB","i":8,"w":1204,"r":0.147},{"c":"FCB","i":8,"w":1378,"r":0.16},{"c":"FCB","i":8,"w":1435,"r":0.165},{"c":"FCB","i":8,"w":1603,"r":0.178},{"c":"FCB","i":8,"w":1620,"r":0.178},{"c":"FCB","i":8,"w":1720,"r":0.174},{"c":"FCB","i":8,"w":1743,"r":0.172},{"c":"FCB","i":8,"w":1748,"r":0.171},{"c":"FCB","i":8,"w":1899,"r":0.172},{"c":"FCB","i":8,"w":1977,"r":0.175},{"c":"FCB","i":8,"w":2229,"r":0.185},{"c":"FCB","i":8,"w":2335,"r":0.19},
      {"c":"FCB","i":9,"w":1204,"r":0.135},{"c":"FCB","i":9,"w":1378,"r":0.142},{"c":"FCB","i":9,"w":1435,"r":0.142},{"c":"FCB","i":9,"w":1603,"r":0.145},{"c":"FCB","i":9,"w":1620,"r":0.145},{"c":"FCB","i":9,"w":1720,"r":0.143},{"c":"FCB","i":9,"w":1743,"r":0.143},{"c":"FCB","i":9,"w":1748,"r":0.143},{"c":"FCB","i":9,"w":1899,"r":0.145},{"c":"FCB","i":9,"w":1977,"r":0.148},{"c":"FCB","i":9,"w":2229,"r":0.16},{"c":"FCB","i":9,"w":2335,"r":0.165},
      {"c":"FCB","i":10,"w":1204,"r":0.118},{"c":"FCB","i":10,"w":1378,"r":0.124},{"c":"FCB","i":10,"w":1435,"r":0.126},{"c":"FCB","i":10,"w":1603,"r":0.128},{"c":"FCB","i":10,"w":1620,"r":0.129},{"c":"FCB","i":10,"w":1720,"r":0.127},{"c":"FCB","i":10,"w":1743,"r":0.127},{"c":"FCB","i":10,"w":1748,"r":0.127},{"c":"FCB","i":10,"w":1899,"r":0.129},{"c":"FCB","i":10,"w":1977,"r":0.13},{"c":"FCB","i":10,"w":2229,"r":0.137},{"c":"FCB","i":10,"w":2335,"r":0.132},
      {"c":"PPFCB","i":1,"w":1204,"r":0.645},{"c":"PPFCB","i":1,"w":1378,"r":0.65},{"c":"PPFCB","i":1,"w":1435,"r":0.652},{"c":"PPFCB","i":1,"w":1603,"r":0.652},{"c":"PPFCB","i":1,"w":1620,"r":0.65},{"c":"PPFCB","i":1,"w":1720,"r":0.589},{"c":"PPFCB","i":1,"w":1743,"r":0.59},{"c":"PPFCB","i":1,"w":1748,"r":0.592},{"c":"PPFCB","i":1,"w":1899,"r":0.633},{"c":"PPFCB","i":1,"w":1977,"r":0.622},{"c":"PPFCB","i":1,"w":2229,"r":0.731},{"c":"PPFCB","i":1,"w":2335,"r":0.749},
      {"c":"PPFCB","i":2,"w":1204,"r":0.614},{"c":"PPFCB","i":2,"w":1378,"r":0.629},{"c":"PPFCB","i":2,"w":1435,"r":0.64},{"c":"PPFCB","i":2,"w":1603,"r":0.64},{"c":"PPFCB","i":2,"w":1620,"r":0.638},{"c":"PPFCB","i":2,"w":1720,"r":0.554},{"c":"PPFCB","i":2,"w":1743,"r":0.558},{"c":"PPFCB","i":2,"w":1748,"r":0.56},{"c":"PPFCB","i":2,"w":1899,"r":0.56},{"c":"PPFCB","i":2,"w":1977,"r":0.565},{"c":"PPFCB","i":2,"w":2229,"r":0.712},{"c":"PPFCB","i":2,"w":2335,"r":0.705},
      {"c":"PPFCB","i":3,"w":1204,"r":0.576},{"c":"PPFCB","i":3,"w":1378,"r":0.578},{"c":"PPFCB","i":3,"w":1435,"r":0.578},{"c":"PPFCB","i":3,"w":1603,"r":0.58},{"c":"PPFCB","i":3,"w":1620,"r":0.578},{"c":"PPFCB","i":3,"w":1720,"r":0.54},{"c":"PPFCB","i":3,"w":1743,"r":0.545},{"c":"PPFCB","i":3,"w":1748,"r":0.547},{"c":"PPFCB","i":3,"w":1899,"r":0.548},{"c":"PPFCB","i":3,"w":1977,"r":0.555},{"c":"PPFCB","i":3,"w":2229,"r":0.665},{"c":"PPFCB","i":3,"w":2335,"r":0.718},
      {"c":"PPFCB","i":4,"w":1204,"r":0.532},{"c":"PPFCB","i":4,"w":1378,"r":0.542},{"c":"PPFCB","i":4,"w":1435,"r":0.548},{"c":"PPFCB","i":4,"w":1603,"r":0.548},{"c":"PPFCB","i":4,"w":1620,"r":0.545},{"c":"PPFCB","i":4,"w":1720,"r":0.5},{"c":"PPFCB","i":4,"w":1743,"r":0.502},{"c":"PPFCB","i":4,"w":1748,"r":0.505},{"c":"PPFCB","i":4,"w":1899,"r":0.525},{"c":"PPFCB","i":4,"w":1977,"r":0.53},{"c":"PPFCB","i":4,"w":2229,"r":0.65},{"c":"PPFCB","i":4,"w":2335,"r":0.68},
      {"c":"PPFCB","i":5,"w":1204,"r":0.505},{"c":"PPFCB","i":5,"w":1378,"r":0.508},{"c":"PPFCB","i":5,"w":1435,"r":0.51},{"c":"PPFCB","i":5,"w":1603,"r":0.512},{"c":"PPFCB","i":5,"w":1620,"r":0.51},{"c":"PPFCB","i":5,"w":1720,"r":0.488},{"c":"PPFCB","i":5,"w":1743,"r":0.49},{"c":"PPFCB","i":5,"w":1748,"r":0.492},{"c":"PPFCB","i":5,"w":1899,"r":0.548},{"c":"PPFCB","i":5,"w":1977,"r":0.555},{"c":"PPFCB","i":5,"w":2229,"r":0.625},{"c":"PPFCB","i":5,"w":2335,"r":0.675},
      {"c":"PPFCB","i":6,"w":1204,"r":0.453},{"c":"PPFCB","i":6,"w":1378,"r":0.446},{"c":"PPFCB","i":6,"w":1435,"r":0.447},{"c":"PPFCB","i":6,"w":1603,"r":0.448},{"c":"PPFCB","i":6,"w":1620,"r":0.448},{"c":"PPFCB","i":6,"w":1720,"r":0.425},{"c":"PPFCB","i":6,"w":1743,"r":0.427},{"c":"PPFCB","i":6,"w":1748,"r":0.429},{"c":"PPFCB","i":6,"w":1899,"r":0.462},{"c":"PPFCB","i":6,"w":1977,"r":0.47},{"c":"PPFCB","i":6,"w":2229,"r":0.59},{"c":"PPFCB","i":6,"w":2335,"r":0.652},
      {"c":"PPFCB","i":7,"w":1204,"r":0.431},{"c":"PPFCB","i":7,"w":1378,"r":0.425},{"c":"PPFCB","i":7,"w":1435,"r":0.426},{"c":"PPFCB","i":7,"w":1603,"r":0.427},{"c":"PPFCB","i":7,"w":1620,"r":0.427},{"c":"PPFCB","i":7,"w":1720,"r":0.398},{"c":"PPFCB","i":7,"w":1743,"r":0.4},{"c":"PPFCB","i":7,"w":1748,"r":0.4},{"c":"PPFCB","i":7,"w":1899,"r":0.44},{"c":"PPFCB","i":7,"w":1977,"r":0.452},{"c":"PPFCB","i":7,"w":2229,"r":0.595},{"c":"PPFCB","i":7,"w":2335,"r":0.678},
      {"c":"CB","i":1,"w":1204,"r":0.126},{"c":"CB","i":1,"w":1378,"r":0.14},{"c":"CB","i":1,"w":1435,"r":0.142},{"c":"CB","i":1,"w":1603,"r":0.15},{"c":"CB","i":1,"w":1620,"r":0.152},{"c":"CB","i":1,"w":1720,"r":0.153},{"c":"CB","i":1,"w":1743,"r":0.153},{"c":"CB","i":1,"w":1748,"r":0.153},{"c":"CB","i":1,"w":1899,"r":0.155},{"c":"CB","i":1,"w":1977,"r":0.158},{"c":"CB","i":1,"w":2229,"r":0.18},{"c":"CB","i":1,"w":2335,"r":0.2},
      {"c":"CB","i":2,"w":1204,"r":0.108},{"c":"CB","i":2,"w":1378,"r":0.124},{"c":"CB","i":2,"w":1435,"r":0.127},{"c":"CB","i":2,"w":1603,"r":0.135},{"c":"CB","i":2,"w":1620,"r":0.136},{"c":"CB","i":2,"w":1720,"r":0.134},{"c":"CB","i":2,"w":1743,"r":0.134},{"c":"CB","i":2,"w":1748,"r":0.134},{"c":"CB","i":2,"w":1899,"r":0.135},{"c":"CB","i":2,"w":1977,"r":0.138},{"c":"CB","i":2,"w":2229,"r":0.155},{"c":"CB","i":2,"w":2335,"r":0.176},
      {"c":"CB","i":3,"w":1204,"r":0.104},{"c":"CB","i":3,"w":1378,"r":0.12},{"c":"CB","i":3,"w":1435,"r":0.123},{"c":"CB","i":3,"w":1603,"r":0.131},{"c":"CB","i":3,"w":1620,"r":0.132},{"c":"CB","i":3,"w":1720,"r":0.13},{"c":"CB","i":3,"w":1743,"r":0.13},{"c":"CB","i":3,"w":1748,"r":0.13},{"c":"CB","i":3,"w":1899,"r":0.131},{"c":"CB","i":3,"w":1977,"r":0.134},{"c":"CB","i":3,"w":2229,"r":0.15},{"c":"CB","i":3,"w":2335,"r":0.17},
      {"c":"CB","i":4,"w":1204,"r":0.1},{"c":"CB","i":4,"w":1378,"r":0.116},{"c":"CB","i":4,"w":1435,"r":0.119},{"c":"CB","i":4,"w":1603,"r":0.127},{"c":"CB","i":4,"w":1620,"r":0.128},{"c":"CB","i":4,"w":1720,"r":0.126},{"c":"CB","i":4,"w":1743,"r":0.126},{"c":"CB","i":4,"w":1748,"r":0.126},{"c":"CB","i":4,"w":1899,"r":0.127},{"c":"CB","i":4,"w":1977,"r":0.13},{"c":"CB","i":4,"w":2229,"r":0.145},{"c":"CB","i":4,"w":2335,"r":0.164},
      {"c":"CB","i":5,"w":1204,"r":0.096},{"c":"CB","i":5,"w":1378,"r":0.112},{"c":"CB","i":5,"w":1435,"r":0.115},{"c":"CB","i":5,"w":1603,"r":0.122},{"c":"CB","i":5,"w":1620,"r":0.123},{"c":"CB","i":5,"w":1720,"r":0.122},{"c":"CB","i":5,"w":1743,"r":0.122},{"c":"CB","i":5,"w":1748,"r":0.122},{"c":"CB","i":5,"w":1899,"r":0.123},{"c":"CB","i":5,"w":1977,"r":0.126},{"c":"CB","i":5,"w":2229,"r":0.14},{"c":"CB","i":5,"w":2335,"r":0.158},
      {"c":"CB","i":6,"w":1204,"r":0.092},{"c":"CB","i":6,"w":1378,"r":0.107},{"c":"CB","i":6,"w":1435,"r":0.11},{"c":"CB","i":6,"w":1603,"r":0.117},{"c":"CB","i":6,"w":1620,"r":0.118},{"c":"CB","i":6,"w":1720,"r":0.117},{"c":"CB","i":6,"w":1743,"r":0.117},{"c":"CB","i":6,"w":1748,"r":0.117},{"c":"CB","i":6,"w":1899,"r":0.118},{"c":"CB","i":6,"w":1977,"r":0.121},{"c":"CB","i":6,"w":2229,"r":0.135},{"c":"CB","i":6,"w":2335,"r":0.152},
      {"c":"CB","i":7,"w":1204,"r":0.088},{"c":"CB","i":7,"w":1378,"r":0.103},{"c":"CB","i":7,"w":1435,"r":0.106},{"c":"CB","i":7,"w":1603,"r":0.112},{"c":"CB","i":7,"w":1620,"r":0.113},{"c":"CB","i":7,"w":1720,"r":0.112},{"c":"CB","i":7,"w":1743,"r":0.112},{"c":"CB","i":7,"w":1748,"r":0.112},{"c":"CB","i":7,"w":1899,"r":0.113},{"c":"CB","i":7,"w":1977,"r":0.116},{"c":"CB","i":7,"w":2229,"r":0.13},{"c":"CB","i":7,"w":2335,"r":0.147}
    ]
  },
  "vconcat": [
    {
      "width": 2433,
      "height": 1111,
      "layer": [
        {
          "data": {"name": "top"},
          "mark": {"type": "line", "interpolate": "monotone", "strokeWidth": 4.5},
          "encoding": {
            "x": {
              "field": "w", "type": "quantitative",
              "scale": {"domain": [903, 2672], "nice": false, "zero": false},
              "axis": {"values": [983,1068,1153,1237,1322,1406,1491,1575,1659,1743,1827,1910,1994,2078,2162,2245,2329,2413,2497,2580], "format": "d", "title": "Wavelength (nm)"}
            },
            "y": {
              "field": "r", "type": "quantitative",
              "scale": {"domain": [0, 1.76], "nice": false},
              "axis": {"values": [0,0.2,0.4,0.6,0.8,1.0,1.2,1.4,1.6], "format": ".1f", "title": "Reflectance"}
            },
            "color": {
              "field": "c", "type": "nominal",
              "scale": {"domain": ["SC","FC","PPFC","FCB","PPFCB","CB"], "range": ["#1f78b4","#ff7f00","#33a02c","#e31a1c","#6a3d9a","#b15928"]},
              "legend": {"orient": "top-left", "offset": 26, "columns": 1, "rowPadding": 22.5}
            },
            "detail": {"field": "i"}
          }
        },
        {
          "data": {"values": [{}]},
          "mark": {"type": "text", "text": "(a)", "font": "Liberation Serif", "fontSize": 80, "align": "center", "baseline": "middle", "color": "black"},
          "encoding": {
            "x": {"datum": 2620, "type": "quantitative"},
            "y": {"datum": 0.1, "type": "quantitative"}
          }
        }
      ]
    },
    {
      "width": 2433,
      "height": 1110,
      "layer": [
        {
          "data": {"name": "bot"},
          "mark": {"type": "line", "strokeWidth": 4.5},
          "encoding": {
            "x": {
              "field": "w", "type": "ordinal",
              "scale": {"type": "point", "padding": 0.55},
              "axis": {"title": "Wavelength (nm)", "labelAngle": 0}
            },
            "y": {
              "field": "r", "type": "quantitative",
              "scale": {"domain": [0.0466, 0.894], "nice": false, "zero": false},
              "axis": {"values": [0.1,0.2,0.3,0.4,0.5,0.6,0.7,0.8], "format": ".1f", "title": "Reflectance"}
            },
            "color": {
              "field": "c", "type": "nominal",
              "scale": {"domain": ["SC","FC","PPFC","FCB","PPFCB","CB"], "range": ["#1f78b4","#ff7f00","#33a02c","#e31a1c","#6a3d9a","#b15928"]},
              "legend": {"orient": "top-right", "offset": 25, "columns": 3, "columnPadding": 98, "rowPadding": 22.5}
            },
            "detail": {"field": "i"}
          }
        },
        {
          "data": {"values": [{}]},
          "mark": {"type": "text", "text": "(b)", "font": "Liberation Serif", "fontSize": 80, "align": "center", "baseline": "middle", "color": "black", "dx": 40},
          "encoding": {
            "x": {"datum": 2335, "type": "ordinal"},
            "y": {"datum": 0.0924, "type": "quantitative"}
          }
        }
      ]
    }
  ],
  "spacing": 170,
  "bounds": "flush",
  "resolve": {"scale": {"color": "independent"}},
  "config": {
    "view": {"stroke": "black", "strokeWidth": 2.7},
    "axis": {
      "labelFont": "Liberation Serif", "labelFontSize": 48, "labelColor": "black",
      "titleFont": "Liberation Serif", "titleFontSize": 50, "titleFontWeight": "normal", "titleColor": "black",
      "tickColor": "black", "tickSize": 10, "tickWidth": 2.5,
      "domain": false, "grid": false, "labelPadding": 8, "labelOverlap": false, "labelFlush": false
    },
    "axisX": {"titlePadding": 9},
    "axisY": {"labelPadding": 13, "titlePadding": 12},
    "legend": {
      "title": null,
      "symbolType": "M-4,0H4", "symbolSize": 676, "symbolStrokeWidth": 4.5, "symbolOffset": 27.4,
      "labelFont": "Liberation Serif", "labelFontSize": 48, "labelColor": "black", "labelOffset": 67, "labelLimit": 500,
      "padding": 16, "strokeColor": "#cccccc", "fillColor": "white", "cornerRadius": 8
    }
  }
}
